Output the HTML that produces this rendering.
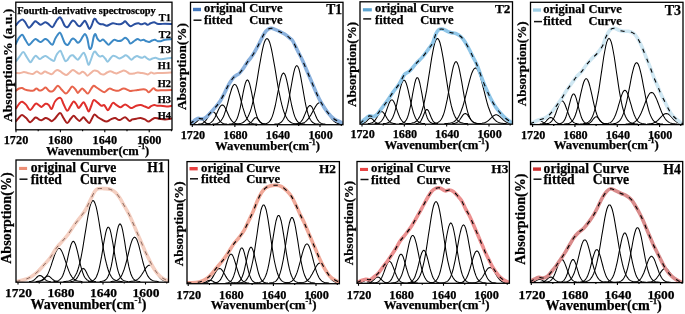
<!DOCTYPE html><html><head><meta charset="utf-8"><style>html,body{margin:0;padding:0;background:#fff;overflow:hidden}</style></head><body><svg width="685" height="314" viewBox="0 0 685 314" style="display:block;filter:blur(0.4px)">
<rect width="685" height="314" fill="#fff"/>
<defs>
<clipPath id="cT1"><rect x="190.5" y="2.3" width="152.5" height="122.4"/></clipPath>
<clipPath id="cT2"><rect x="360" y="1.8" width="152.5" height="122.4"/></clipPath>
<clipPath id="cT3"><rect x="530.5" y="2.3" width="152.5" height="122.3"/></clipPath>
<clipPath id="cH1"><rect x="16" y="160" width="152.5" height="122.19999999999999"/></clipPath>
<clipPath id="cH2"><rect x="187" y="161.6" width="152.39999999999998" height="122.1"/></clipPath>
<clipPath id="cH3"><rect x="357" y="161.5" width="152.39999999999998" height="121.80000000000001"/></clipPath>
<clipPath id="cH4"><rect x="530.5" y="161.5" width="152.20000000000005" height="121.10000000000002"/></clipPath>
<clipPath id="cA"><rect x="15.5" y="2" width="156.5" height="128"/></clipPath>
</defs>
<g clip-path="url(#cT1)">
<g fill="none" stroke="#000" stroke-width="1.05" stroke-linejoin="round"><polyline points="190.9,124.2 191.9,124.1 193.0,123.9 194.1,123.5 195.2,123.0 196.3,122.2 197.4,121.1 198.4,120.1 199.5,119.4 200.6,119.1 201.7,119.4 202.8,120.1 203.8,121.1 204.9,122.2 206.0,123.0 207.1,123.5 208.2,123.9 209.3,124.1 210.3,124.2"/><polyline points="198.1,124.2 199.1,124.1 200.2,124.0 201.2,123.8 202.2,123.4 203.3,122.9 204.3,122.1 205.4,121.0 206.4,119.6 207.5,118.0 208.5,116.2 209.6,114.4 210.6,112.9 211.7,112.0 212.7,111.6 213.7,112.0 214.8,112.9 215.8,114.4 216.9,116.2 217.9,118.0 219.0,119.6 220.0,121.0 221.1,122.1 222.1,122.9 223.2,123.4 224.2,123.8 225.2,124.0 226.3,124.1 227.3,124.2"/><polyline points="204.7,124.2 205.7,124.1 206.8,124.0 207.8,123.9 208.8,123.6 209.9,123.2 210.9,122.6 211.9,121.7 213.0,120.6 214.0,119.0 215.1,117.2 216.1,115.0 217.1,112.7 218.2,110.3 219.2,108.2 220.2,106.4 221.3,105.3 222.3,104.9 223.3,105.3 224.4,106.4 225.4,108.2 226.4,110.3 227.5,112.7 228.5,115.0 229.5,117.2 230.6,119.0 231.6,120.6 232.7,121.7 233.7,122.6 234.7,123.2 235.8,123.6 236.8,123.9 237.8,124.0 238.9,124.1 239.9,124.2"/><polyline points="212.0,124.2 213.1,124.1 214.1,124.0 215.1,123.9 216.2,123.7 217.2,123.5 218.2,123.0 219.2,122.4 220.3,121.5 221.3,120.3 222.3,118.7 223.4,116.7 224.4,114.2 225.4,111.2 226.5,107.7 227.5,104.0 228.5,100.0 229.5,96.0 230.6,92.3 231.6,89.0 232.6,86.5 233.7,84.9 234.7,84.4 235.7,84.9 236.8,86.5 237.8,89.0 238.8,92.3 239.9,96.0 240.9,100.0 241.9,104.0 242.9,107.7 244.0,111.2 245.0,114.2 246.0,116.7 247.1,118.7 248.1,120.3 249.1,121.5 250.2,122.4 251.2,123.0 252.2,123.5 253.2,123.7 254.3,123.9 255.3,124.0 256.3,124.1 257.4,124.2"/><polyline points="228.6,124.2 229.7,124.1 230.7,124.0 231.7,123.8 232.8,123.5 233.8,122.9 234.9,122.0 235.9,120.7 237.0,118.7 238.0,116.1 239.0,112.6 240.1,108.3 241.1,103.3 242.2,97.9 243.2,92.4 244.3,87.4 245.3,83.4 246.4,80.7 247.4,79.8 248.4,80.7 249.5,83.4 250.5,87.4 251.6,92.4 252.6,97.9 253.7,103.3 254.7,108.3 255.8,112.6 256.8,116.1 257.8,118.7 258.9,120.7 259.9,122.0 261.0,122.9 262.0,123.5 263.1,123.8 264.1,124.0 265.1,124.1 266.2,124.2"/><polyline points="246.5,124.2 247.6,124.1 248.7,123.8 249.8,123.3 250.9,122.5 252.0,121.3 253.1,119.9 254.2,118.5 255.3,117.7 256.5,117.7 257.6,118.5 258.7,119.9 259.8,121.3 260.9,122.5 262.0,123.3 263.1,123.8 264.2,124.1 265.3,124.2"/><polyline points="233.8,124.2 234.8,124.1 235.9,124.1 236.9,124.0 237.9,123.9 238.9,123.8 239.9,123.6 241.0,123.3 242.0,123.0 243.0,122.5 244.0,121.8 245.0,120.9 246.1,119.8 247.1,118.3 248.1,116.5 249.1,114.3 250.2,111.6 251.2,108.4 252.2,104.7 253.2,100.5 254.2,95.7 255.3,90.5 256.3,84.8 257.3,78.8 258.3,72.7 259.3,66.6 260.4,60.6 261.4,55.0 262.4,49.9 263.4,45.6 264.4,42.2 265.5,39.8 266.5,38.7 267.5,38.7 268.5,39.8 269.6,42.2 270.6,45.6 271.6,49.9 272.6,55.0 273.6,60.6 274.7,66.6 275.7,72.7 276.7,78.8 277.7,84.8 278.7,90.5 279.8,95.7 280.8,100.5 281.8,104.7 282.8,108.4 283.8,111.6 284.9,114.3 285.9,116.5 286.9,118.3 287.9,119.8 289.0,120.9 290.0,121.8 291.0,122.5 292.0,123.0 293.0,123.3 294.1,123.6 295.1,123.8 296.1,123.9 297.1,124.0 298.1,124.1 299.2,124.1 300.2,124.2"/><polyline points="261.9,124.2 262.9,124.1 264.0,124.0 265.0,123.9 266.0,123.7 267.0,123.3 268.1,122.7 269.1,121.8 270.1,120.6 271.2,118.9 272.2,116.6 273.2,113.6 274.2,109.9 275.3,105.5 276.3,100.5 277.3,95.1 278.4,89.6 279.4,84.4 280.4,79.8 281.4,76.1 282.5,73.8 283.5,73.0 284.5,73.8 285.6,76.1 286.6,79.8 287.6,84.4 288.6,89.6 289.7,95.1 290.7,100.5 291.7,105.5 292.8,109.9 293.8,113.6 294.8,116.6 295.8,118.9 296.9,120.6 297.9,121.8 298.9,122.7 300.0,123.3 301.0,123.7 302.0,123.9 303.0,124.0 304.1,124.1 305.1,124.2"/><polyline points="274.2,124.2 275.3,124.1 276.3,124.0 277.3,123.9 278.3,123.7 279.4,123.3 280.4,122.8 281.4,122.0 282.4,120.8 283.5,119.2 284.5,117.0 285.5,114.2 286.5,110.6 287.6,106.2 288.6,101.2 289.6,95.5 290.6,89.6 291.7,83.5 292.7,77.8 293.7,72.8 294.7,68.9 295.8,66.4 296.8,65.6 297.8,66.4 298.9,68.9 299.9,72.8 300.9,77.8 301.9,83.5 303.0,89.6 304.0,95.5 305.0,101.2 306.0,106.2 307.1,110.6 308.1,114.2 309.1,117.0 310.1,119.2 311.2,120.8 312.2,122.0 313.2,122.8 314.2,123.3 315.3,123.7 316.3,123.9 317.3,124.0 318.3,124.1 319.4,124.2"/><polyline points="294.5,124.2 295.6,124.1 296.6,124.0 297.7,123.7 298.8,123.4 299.9,122.7 300.9,121.8 302.0,120.4 303.1,118.5 304.1,116.2 305.2,113.6 306.3,111.0 307.3,108.5 308.4,106.6 309.5,105.6 310.5,105.6 311.6,106.6 312.7,108.5 313.7,111.0 314.8,113.6 315.9,116.2 316.9,118.5 318.0,120.4 319.1,121.8 320.1,122.7 321.2,123.4 322.3,123.7 323.4,124.0 324.4,124.1 325.5,124.2"/><polyline points="295.6,124.2 296.6,124.1 297.7,124.1 298.7,124.0 299.7,123.9 300.8,123.7 301.8,123.5 302.8,123.1 303.8,122.7 304.9,122.1 305.9,121.3 306.9,120.4 308.0,119.2 309.0,117.9 310.0,116.3 311.1,114.6 312.1,112.7 313.1,110.8 314.2,108.9 315.2,107.1 316.2,105.5 317.2,104.1 318.3,103.2 319.3,102.6 320.3,102.5 321.4,102.9 322.4,103.7 323.4,104.9 324.5,106.5 325.5,108.2 326.5,110.1 327.5,112.1 328.6,114.0 329.6,115.7 330.6,117.4 331.7,118.8 332.7,120.0 333.7,121.0 334.8,121.8 335.8,122.5 336.8,123.0 337.8,123.4 338.9,123.6 339.9,123.8 340.9,124.0 342.0,124.0 343.0,124.1"/></g>
<path d="M190.00,123.90C190.67,123.40 192.72,121.82 194.00,120.90C195.28,119.98 196.28,118.73 197.70,118.40C199.12,118.07 201.10,119.10 202.50,118.90C203.90,118.70 204.88,118.08 206.10,117.20C207.32,116.32 208.38,115.10 209.80,113.60C211.22,112.10 212.98,110.12 214.60,108.20C216.22,106.28 217.88,104.55 219.50,102.10C221.12,99.65 222.93,96.10 224.30,93.50C225.67,90.90 226.65,88.50 227.70,86.50C228.75,84.50 229.63,83.00 230.60,81.50C231.57,80.00 232.55,78.53 233.50,77.50C234.45,76.47 235.35,75.97 236.30,75.30C237.25,74.63 238.23,74.38 239.20,73.50C240.17,72.62 241.13,71.28 242.10,70.00C243.07,68.72 244.05,67.22 245.00,65.80C245.95,64.38 246.85,62.82 247.80,61.50C248.75,60.18 249.67,59.32 250.70,57.90C251.73,56.48 252.77,55.03 254.00,53.00C255.23,50.97 256.38,48.95 258.10,45.70C259.82,42.45 262.57,36.28 264.30,33.50C266.03,30.72 267.12,29.85 268.50,29.00C269.88,28.15 270.88,28.03 272.60,28.40C274.32,28.77 276.73,30.22 278.80,31.20C280.87,32.18 283.13,33.12 285.00,34.30C286.87,35.48 288.72,37.20 290.00,38.30C291.28,39.40 291.45,38.87 292.70,40.90C293.95,42.93 295.90,47.32 297.50,50.50C299.10,53.68 300.70,56.55 302.30,60.00C303.90,63.45 305.52,67.48 307.10,71.20C308.68,74.92 310.22,78.58 311.80,82.30C313.38,86.02 315.00,90.05 316.60,93.50C318.20,96.95 319.53,99.82 321.40,103.00C323.27,106.18 325.68,109.93 327.80,112.60C329.92,115.27 331.98,117.42 334.10,119.00C336.22,120.58 339.02,121.32 340.50,122.10C341.98,122.88 342.58,123.43 343.00,123.70" fill="none" stroke="#8ab1dd" stroke-width="3.6" stroke-linejoin="round" stroke-linecap="round"/>
<path d="M190.00,123.90C190.67,123.40 192.72,121.82 194.00,120.90C195.28,119.98 196.28,118.73 197.70,118.40C199.12,118.07 201.10,119.10 202.50,118.90C203.90,118.70 204.88,118.08 206.10,117.20C207.32,116.32 208.38,115.10 209.80,113.60C211.22,112.10 212.98,110.12 214.60,108.20C216.22,106.28 217.88,104.55 219.50,102.10C221.12,99.65 222.93,96.10 224.30,93.50C225.67,90.90 226.65,88.50 227.70,86.50C228.75,84.50 229.63,83.00 230.60,81.50C231.57,80.00 232.55,78.53 233.50,77.50C234.45,76.47 235.35,75.97 236.30,75.30C237.25,74.63 238.23,74.38 239.20,73.50C240.17,72.62 241.13,71.28 242.10,70.00C243.07,68.72 244.05,67.22 245.00,65.80C245.95,64.38 246.85,62.82 247.80,61.50C248.75,60.18 249.67,59.32 250.70,57.90C251.73,56.48 252.77,55.03 254.00,53.00C255.23,50.97 256.38,48.95 258.10,45.70C259.82,42.45 262.57,36.28 264.30,33.50C266.03,30.72 267.12,29.85 268.50,29.00C269.88,28.15 270.88,28.03 272.60,28.40C274.32,28.77 276.73,30.22 278.80,31.20C280.87,32.18 283.13,33.12 285.00,34.30C286.87,35.48 288.72,37.20 290.00,38.30C291.28,39.40 291.45,38.87 292.70,40.90C293.95,42.93 295.90,47.32 297.50,50.50C299.10,53.68 300.70,56.55 302.30,60.00C303.90,63.45 305.52,67.48 307.10,71.20C308.68,74.92 310.22,78.58 311.80,82.30C313.38,86.02 315.00,90.05 316.60,93.50C318.20,96.95 319.53,99.82 321.40,103.00C323.27,106.18 325.68,109.93 327.80,112.60C329.92,115.27 331.98,117.42 334.10,119.00C336.22,120.58 339.02,121.32 340.50,122.10C341.98,122.88 342.58,123.43 343.00,123.70" fill="none" stroke="#000" stroke-width="1.1" stroke-dasharray="4.3 6.3"/>
</g>
<rect x="190.5" y="2.3" width="152.5" height="122.4" fill="none" stroke="#000" stroke-width="1.3"/>
<path d="M192.30,124.70v2.4 M213.58,124.70v1.4 M234.87,124.70v2.4 M256.15,124.70v1.4 M277.43,124.70v2.4 M298.72,124.70v1.4 M320.00,124.70v2.4 M341.28,124.70v1.4" stroke="#000" stroke-width="1.1" fill="none"/>
<text x="192.90" y="138.7" text-anchor="middle" style="font-family:'Liberation Serif',serif;font-weight:bold;stroke:#000;stroke-width:0.25px;font-size:12.2px">1720</text>
<text x="235.47" y="138.7" text-anchor="middle" style="font-family:'Liberation Serif',serif;font-weight:bold;stroke:#000;stroke-width:0.25px;font-size:12.2px">1680</text>
<text x="278.03" y="138.7" text-anchor="middle" style="font-family:'Liberation Serif',serif;font-weight:bold;stroke:#000;stroke-width:0.25px;font-size:12.2px">1640</text>
<text x="320.60" y="138.7" text-anchor="middle" style="font-family:'Liberation Serif',serif;font-weight:bold;stroke:#000;stroke-width:0.25px;font-size:12.2px">1600</text>
<text x="215.0" y="150.3" style="font-family:'Liberation Serif',serif;font-weight:bold;stroke:#000;stroke-width:0.25px;font-size:12.748999999999999px">Wavenumber(cm<tspan style="font-size:7.90px" dy="-5.35">-1</tspan><tspan dy="5.35">)</tspan></text>
<text transform="translate(186.4,66.55) rotate(-90)" text-anchor="middle" textLength="87.0" lengthAdjust="spacingAndGlyphs" style="font-family:'Liberation Serif',serif;font-weight:bold;stroke:#000;stroke-width:0.25px;font-size:13.1px">Absorption(%)</text>
<rect x="193" y="7.8" width="8" height="3.4" fill="#4277bd"/>
<path d="M193.5,20.2h8" stroke="#111" stroke-width="1.5"/>
<text x="204.1" y="12.2" style="font-family:'Liberation Serif',serif;font-weight:bold;stroke:#000;stroke-width:0.25px;font-size:12.5px">original</text>
<text x="249.3" y="12.2" style="font-family:'Liberation Serif',serif;font-weight:bold;stroke:#000;stroke-width:0.25px;font-size:12.5px">Curve</text>
<text x="204.1" y="24.2" style="font-family:'Liberation Serif',serif;font-weight:bold;stroke:#000;stroke-width:0.25px;font-size:12.5px">fitted</text>
<text x="249.3" y="24.2" style="font-family:'Liberation Serif',serif;font-weight:bold;stroke:#000;stroke-width:0.25px;font-size:12.5px">Curve</text>
<text x="342" y="13.9" text-anchor="end" style="font-family:'Liberation Serif',serif;font-weight:bold;stroke:#000;stroke-width:0.25px;font-size:13.6px">T1</text>
<g clip-path="url(#cT2)">
<g fill="none" stroke="#000" stroke-width="1.05" stroke-linejoin="round"><polyline points="361.3,123.5 362.4,123.5 363.5,123.2 364.5,122.8 365.6,122.1 366.7,121.1 367.8,119.9 368.9,118.8 370.0,118.1 371.0,118.1 372.1,118.8 373.2,119.9 374.3,121.1 375.4,122.1 376.5,122.8 377.5,123.2 378.6,123.5 379.7,123.5"/><polyline points="367.8,123.5 368.9,123.5 369.9,123.4 371.0,123.1 372.1,122.7 373.1,122.1 374.2,121.2 375.3,119.9 376.4,118.3 377.4,116.5 378.5,114.6 379.6,113.1 380.6,112.0 381.7,111.6 382.8,112.0 383.8,113.1 384.9,114.6 386.0,116.5 387.0,118.3 388.1,119.9 389.2,121.2 390.3,122.1 391.3,122.7 392.4,123.1 393.5,123.4 394.5,123.5 395.6,123.5"/><polyline points="374.6,123.5 375.6,123.5 376.7,123.4 377.7,123.2 378.8,122.9 379.8,122.4 380.9,121.6 381.9,120.5 382.9,119.0 384.0,116.9 385.0,114.5 386.1,111.6 387.1,108.6 388.2,105.6 389.2,102.9 390.2,101.0 391.3,99.9 392.3,99.9 393.4,101.0 394.4,102.9 395.4,105.6 396.5,108.6 397.5,111.6 398.6,114.5 399.6,116.9 400.7,119.0 401.7,120.5 402.7,121.6 403.8,122.4 404.8,122.9 405.9,123.2 406.9,123.4 408.0,123.5 409.0,123.5"/><polyline points="383.0,123.5 384.1,123.5 385.1,123.4 386.2,123.3 387.2,123.0 388.3,122.6 389.3,122.0 390.4,121.1 391.4,119.8 392.5,118.0 393.5,115.6 394.6,112.6 395.6,108.9 396.7,104.6 397.7,99.9 398.8,95.1 399.8,90.4 400.9,86.2 401.9,82.9 403.0,80.8 404.0,80.1 405.0,80.8 406.1,82.9 407.1,86.2 408.2,90.4 409.2,95.1 410.3,99.9 411.3,104.6 412.4,108.9 413.4,112.6 414.5,115.6 415.5,118.0 416.6,119.8 417.6,121.1 418.7,122.0 419.7,122.6 420.8,123.0 421.8,123.3 422.9,123.4 423.9,123.5 425.0,123.5"/><polyline points="399.2,123.5 400.2,123.5 401.3,123.4 402.3,123.2 403.3,122.8 404.4,122.2 405.4,121.2 406.4,119.7 407.5,117.4 408.5,114.4 409.5,110.4 410.6,105.6 411.6,100.1 412.6,94.2 413.7,88.5 414.7,83.5 415.7,79.8 416.8,77.8 417.8,77.8 418.9,79.8 419.9,83.5 420.9,88.5 422.0,94.2 423.0,100.1 424.0,105.6 425.1,110.4 426.1,114.4 427.1,117.4 428.2,119.7 429.2,121.2 430.2,122.2 431.3,122.8 432.3,123.2 433.3,123.4 434.4,123.5 435.4,123.5"/><polyline points="415.8,123.5 416.9,123.5 417.9,123.2 419.0,122.8 420.0,122.0 421.1,120.6 422.1,118.6 423.2,116.0 424.3,113.3 425.3,110.9 426.4,109.6 427.4,109.6 428.5,110.9 429.5,113.3 430.6,116.0 431.7,118.6 432.7,120.6 433.8,122.0 434.8,122.8 435.9,123.2 436.9,123.5 438.0,123.5"/><polyline points="406.9,123.5 408.0,123.5 409.0,123.5 410.0,123.4 411.1,123.3 412.1,123.1 413.1,122.8 414.2,122.5 415.2,122.0 416.2,121.3 417.3,120.3 418.3,119.0 419.3,117.4 420.4,115.3 421.4,112.7 422.4,109.5 423.5,105.7 424.5,101.2 425.5,96.1 426.6,90.4 427.6,84.2 428.6,77.7 429.7,70.9 430.7,64.2 431.7,57.8 432.8,51.9 433.8,46.9 434.8,42.8 435.9,40.0 436.9,38.6 437.9,38.6 438.9,40.0 440.0,42.8 441.0,46.9 442.0,51.9 443.1,57.8 444.1,64.2 445.1,70.9 446.2,77.7 447.2,84.2 448.2,90.4 449.3,96.1 450.3,101.2 451.3,105.7 452.4,109.5 453.4,112.7 454.4,115.3 455.5,117.4 456.5,119.0 457.5,120.3 458.6,121.3 459.6,122.0 460.6,122.5 461.7,122.8 462.7,123.1 463.7,123.3 464.8,123.4 465.8,123.5 466.8,123.5 467.9,123.5"/><polyline points="431.8,123.5 432.9,123.5 433.9,123.4 434.9,123.3 436.0,123.1 437.0,122.8 438.0,122.4 439.0,121.7 440.1,120.8 441.1,119.5 442.1,117.7 443.2,115.3 444.2,112.3 445.2,108.6 446.2,104.2 447.3,99.2 448.3,93.6 449.3,87.6 450.3,81.6 451.4,75.9 452.4,70.7 453.4,66.4 454.5,63.4 455.5,61.8 456.5,61.8 457.5,63.4 458.6,66.4 459.6,70.7 460.6,75.9 461.7,81.6 462.7,87.6 463.7,93.6 464.7,99.2 465.8,104.2 466.8,108.6 467.8,112.3 468.8,115.3 469.9,117.7 470.9,119.5 471.9,120.8 473.0,121.7 474.0,122.4 475.0,122.8 476.0,123.1 477.1,123.3 478.1,123.4 479.1,123.5 480.2,123.5"/><polyline points="452.3,123.5 453.3,123.5 454.4,123.4 455.4,123.1 456.4,122.7 457.5,122.1 458.5,121.2 459.6,120.0 460.6,118.5 461.7,116.9 462.7,115.4 463.7,114.2 464.8,113.6 465.8,113.6 466.9,114.2 467.9,115.4 468.9,116.9 470.0,118.5 471.0,120.0 472.1,121.2 473.1,122.1 474.2,122.7 475.2,123.1 476.2,123.4 477.3,123.5 478.3,123.5"/><polyline points="444.4,123.5 445.4,123.5 446.5,123.5 447.5,123.4 448.5,123.3 449.5,123.2 450.5,123.0 451.5,122.7 452.6,122.4 453.6,121.9 454.6,121.3 455.6,120.4 456.6,119.4 457.7,118.1 458.7,116.5 459.7,114.5 460.7,112.2 461.7,109.5 462.8,106.5 463.8,103.1 464.8,99.4 465.8,95.4 466.8,91.4 467.9,87.2 468.9,83.2 469.9,79.3 470.9,75.9 471.9,72.9 473.0,70.6 474.0,68.9 475.0,68.1 476.0,68.1 477.0,68.9 478.0,70.6 479.1,72.9 480.1,75.9 481.1,79.3 482.1,83.2 483.1,87.2 484.2,91.4 485.2,95.4 486.2,99.4 487.2,103.1 488.2,106.5 489.3,109.5 490.3,112.2 491.3,114.5 492.3,116.5 493.3,118.1 494.4,119.4 495.4,120.4 496.4,121.3 497.4,121.9 498.4,122.4 499.5,122.7 500.5,123.0 501.5,123.2 502.5,123.3 503.5,123.4 504.5,123.5 505.6,123.5 506.6,123.5"/><polyline points="478.8,123.5 479.9,123.5 480.9,123.4 482.0,123.3 483.0,123.1 484.1,122.9 485.1,122.5 486.2,122.0 487.3,121.4 488.3,120.6 489.4,119.7 490.4,118.6 491.5,117.6 492.5,116.6 493.6,115.8 494.6,115.2 495.7,114.8 496.7,114.8 497.8,115.2 498.8,115.8 499.9,116.6 500.9,117.6 502.0,118.6 503.0,119.6 504.1,120.6 505.1,121.4 506.2,122.0 507.2,122.5 508.3,122.9 509.3,123.1 510.4,123.3 511.4,123.4 512.5,123.5"/></g>
<path d="M360.00,123.40C360.87,122.67 363.65,120.25 365.20,119.00C366.75,117.75 367.92,116.30 369.30,115.90C370.68,115.50 372.28,116.77 373.50,116.60C374.72,116.43 375.40,116.05 376.60,114.90C377.80,113.75 378.98,111.95 380.70,109.70C382.42,107.45 384.83,104.33 386.90,101.40C388.97,98.47 391.03,95.03 393.10,92.10C395.17,89.17 397.40,86.73 399.30,83.80C401.20,80.87 402.77,76.63 404.50,74.50C406.23,72.37 407.75,72.85 409.70,71.00C411.65,69.15 414.08,65.70 416.20,63.40C418.32,61.10 420.33,59.62 422.40,57.20C424.47,54.78 426.87,51.32 428.60,48.90C430.33,46.48 431.58,45.22 432.80,42.70C434.02,40.18 434.87,35.98 435.90,33.80C436.93,31.62 437.80,30.37 439.00,29.60C440.20,28.83 441.72,28.92 443.10,29.20C444.48,29.48 445.92,30.70 447.30,31.30C448.68,31.90 450.03,32.45 451.40,32.80C452.77,33.15 453.95,32.78 455.50,33.40C457.05,34.02 459.13,35.12 460.70,36.50C462.27,37.88 463.47,39.53 464.90,41.70C466.33,43.87 467.93,46.92 469.30,49.50C470.67,52.08 471.87,54.73 473.10,57.20C474.33,59.67 475.50,61.52 476.70,64.30C477.90,67.08 479.10,70.72 480.30,73.90C481.50,77.08 482.70,80.42 483.90,83.40C485.10,86.38 486.32,89.20 487.50,91.80C488.68,94.40 489.62,96.42 491.00,99.00C492.38,101.58 494.20,104.92 495.80,107.30C497.40,109.68 499.00,111.50 500.60,113.30C502.20,115.10 503.80,116.72 505.40,118.10C507.00,119.48 508.93,120.68 510.20,121.60C511.47,122.52 512.53,123.27 513.00,123.60" fill="none" stroke="#8fc6e8" stroke-width="3.6" stroke-linejoin="round" stroke-linecap="round"/>
<path d="M360.00,123.40C360.87,122.67 363.65,120.25 365.20,119.00C366.75,117.75 367.92,116.30 369.30,115.90C370.68,115.50 372.28,116.77 373.50,116.60C374.72,116.43 375.40,116.05 376.60,114.90C377.80,113.75 378.98,111.95 380.70,109.70C382.42,107.45 384.83,104.33 386.90,101.40C388.97,98.47 391.03,95.03 393.10,92.10C395.17,89.17 397.40,86.73 399.30,83.80C401.20,80.87 402.77,76.63 404.50,74.50C406.23,72.37 407.75,72.85 409.70,71.00C411.65,69.15 414.08,65.70 416.20,63.40C418.32,61.10 420.33,59.62 422.40,57.20C424.47,54.78 426.87,51.32 428.60,48.90C430.33,46.48 431.58,45.22 432.80,42.70C434.02,40.18 434.87,35.98 435.90,33.80C436.93,31.62 437.80,30.37 439.00,29.60C440.20,28.83 441.72,28.92 443.10,29.20C444.48,29.48 445.92,30.70 447.30,31.30C448.68,31.90 450.03,32.45 451.40,32.80C452.77,33.15 453.95,32.78 455.50,33.40C457.05,34.02 459.13,35.12 460.70,36.50C462.27,37.88 463.47,39.53 464.90,41.70C466.33,43.87 467.93,46.92 469.30,49.50C470.67,52.08 471.87,54.73 473.10,57.20C474.33,59.67 475.50,61.52 476.70,64.30C477.90,67.08 479.10,70.72 480.30,73.90C481.50,77.08 482.70,80.42 483.90,83.40C485.10,86.38 486.32,89.20 487.50,91.80C488.68,94.40 489.62,96.42 491.00,99.00C492.38,101.58 494.20,104.92 495.80,107.30C497.40,109.68 499.00,111.50 500.60,113.30C502.20,115.10 503.80,116.72 505.40,118.10C507.00,119.48 508.93,120.68 510.20,121.60C511.47,122.52 512.53,123.27 513.00,123.60" fill="none" stroke="#000" stroke-width="1.1" stroke-dasharray="4.3 6.3"/>
</g>
<rect x="360" y="1.8" width="152.5" height="122.4" fill="none" stroke="#000" stroke-width="1.3"/>
<path d="M362.00,124.20v2.4 M383.17,124.20v1.4 M404.33,124.20v2.4 M425.50,124.20v1.4 M446.67,124.20v2.4 M467.83,124.20v1.4 M489.00,124.20v2.4 M510.17,124.20v1.4" stroke="#000" stroke-width="1.1" fill="none"/>
<text x="362.60" y="138.0" text-anchor="middle" style="font-family:'Liberation Serif',serif;font-weight:bold;stroke:#000;stroke-width:0.25px;font-size:12.2px">1720</text>
<text x="404.93" y="138.0" text-anchor="middle" style="font-family:'Liberation Serif',serif;font-weight:bold;stroke:#000;stroke-width:0.25px;font-size:12.2px">1680</text>
<text x="447.27" y="138.0" text-anchor="middle" style="font-family:'Liberation Serif',serif;font-weight:bold;stroke:#000;stroke-width:0.25px;font-size:12.2px">1640</text>
<text x="489.60" y="138.0" text-anchor="middle" style="font-family:'Liberation Serif',serif;font-weight:bold;stroke:#000;stroke-width:0.25px;font-size:12.2px">1600</text>
<text x="384.4" y="149.2" style="font-family:'Liberation Serif',serif;font-weight:bold;stroke:#000;stroke-width:0.25px;font-size:12.748999999999999px">Wavenumber(cm<tspan style="font-size:7.90px" dy="-5.35">-1</tspan><tspan dy="5.35">)</tspan></text>
<text transform="translate(355.9,64.39999999999999) rotate(-90)" text-anchor="middle" textLength="85.1" lengthAdjust="spacingAndGlyphs" style="font-family:'Liberation Serif',serif;font-weight:bold;stroke:#000;stroke-width:0.25px;font-size:12.8px">Absorption(%)</text>
<rect x="362.9" y="8.2" width="8.9" height="3.2" fill="#5ba3d0"/>
<path d="M363.2,18.9h8" stroke="#111" stroke-width="1.5"/>
<text x="375" y="12.4" style="font-family:'Liberation Serif',serif;font-weight:bold;stroke:#000;stroke-width:0.25px;font-size:12.5px">original</text>
<text x="420.2" y="12.4" style="font-family:'Liberation Serif',serif;font-weight:bold;stroke:#000;stroke-width:0.25px;font-size:12.5px">Curve</text>
<text x="375" y="23.9" style="font-family:'Liberation Serif',serif;font-weight:bold;stroke:#000;stroke-width:0.25px;font-size:12.5px">fitted</text>
<text x="420.2" y="23.9" style="font-family:'Liberation Serif',serif;font-weight:bold;stroke:#000;stroke-width:0.25px;font-size:12.5px">Curve</text>
<text x="510.5" y="12.9" text-anchor="end" style="font-family:'Liberation Serif',serif;font-weight:bold;stroke:#000;stroke-width:0.25px;font-size:13.3px">T2</text>
<g clip-path="url(#cT3)">
<g fill="none" stroke="#000" stroke-width="1.05" stroke-linejoin="round"><polyline points="530.5,123.9 531.6,123.8 532.7,123.5 533.7,123.1 534.8,122.4 535.9,121.5 537.0,120.7 538.1,120.1 539.2,119.9 540.2,120.3 541.3,121.0 542.4,121.9 543.5,122.7 544.6,123.3 545.6,123.7 546.7,123.9 547.8,124.0"/><polyline points="539.8,124.0 540.9,123.9 542.0,123.7 543.0,123.4 544.1,122.9 545.2,122.1 546.3,121.0 547.4,119.7 548.5,118.6 549.6,117.7 550.7,117.4 551.8,117.7 552.9,118.6 554.0,119.7 555.1,121.0 556.2,122.1 557.3,122.9 558.4,123.4 559.4,123.7 560.5,123.9 561.6,124.0"/><polyline points="544.5,124.0 545.5,123.9 546.5,123.8 547.6,123.6 548.6,123.4 549.6,122.9 550.7,122.2 551.7,121.2 552.7,119.8 553.8,118.0 554.8,115.8 555.8,113.2 556.8,110.4 557.9,107.5 558.9,104.8 559.9,102.7 561.0,101.3 562.0,100.8 563.0,101.3 564.1,102.7 565.1,104.8 566.1,107.5 567.2,110.4 568.2,113.2 569.2,115.8 570.2,118.0 571.3,119.8 572.3,121.2 573.3,122.2 574.4,122.9 575.4,123.4 576.4,123.6 577.5,123.8 578.5,123.9 579.5,124.0"/><polyline points="557.5,124.0 558.5,123.9 559.6,123.8 560.6,123.5 561.7,123.1 562.7,122.4 563.7,121.3 564.8,119.6 565.8,117.3 566.8,114.2 567.9,110.5 568.9,106.4 570.0,102.2 571.0,98.4 572.0,95.6 573.1,94.0 574.1,94.0 575.2,95.6 576.2,98.4 577.2,102.2 578.3,106.4 579.3,110.5 580.4,114.2 581.4,117.3 582.4,119.6 583.5,121.3 584.5,122.4 585.5,123.1 586.6,123.5 587.6,123.8 588.7,123.9 589.7,124.0"/><polyline points="564.1,124.0 565.1,123.9 566.1,123.8 567.1,123.7 568.2,123.5 569.2,123.2 570.2,122.7 571.3,121.9 572.3,120.9 573.3,119.5 574.4,117.5 575.4,115.0 576.4,112.0 577.4,108.3 578.5,104.1 579.5,99.6 580.5,94.9 581.6,90.2 582.6,86.0 583.6,82.5 584.7,80.0 585.7,78.7 586.7,78.7 587.7,80.0 588.8,82.5 589.8,86.0 590.8,90.2 591.9,94.9 592.9,99.6 593.9,104.1 595.0,108.3 596.0,112.0 597.0,115.0 598.0,117.5 599.1,119.5 600.1,120.9 601.1,121.9 602.2,122.7 603.2,123.2 604.2,123.5 605.3,123.7 606.3,123.8 607.3,123.9 608.3,124.0"/><polyline points="585.8,124.0 586.9,123.9 588.0,123.7 589.1,123.3 590.2,122.6 591.3,121.6 592.4,120.3 593.5,118.8 594.6,117.6 595.7,116.8 596.7,116.8 597.8,117.6 598.9,118.8 600.0,120.3 601.1,121.6 602.2,122.6 603.3,123.3 604.4,123.7 605.5,123.9 606.6,124.0"/><polyline points="580.1,124.0 581.1,123.9 582.1,123.9 583.2,123.8 584.2,123.6 585.2,123.4 586.3,123.1 587.3,122.7 588.3,122.1 589.4,121.2 590.4,120.1 591.4,118.5 592.5,116.5 593.5,113.9 594.5,110.7 595.6,106.8 596.6,102.2 597.6,96.9 598.7,90.9 599.7,84.3 600.7,77.4 601.8,70.2 602.8,63.2 603.8,56.5 604.9,50.5 605.9,45.4 606.9,41.6 608.0,39.2 609.0,38.4 610.0,39.2 611.1,41.6 612.1,45.4 613.1,50.5 614.2,56.5 615.2,63.2 616.2,70.2 617.3,77.4 618.3,84.3 619.3,90.9 620.4,96.9 621.4,102.2 622.4,106.8 623.5,110.7 624.5,113.9 625.5,116.5 626.6,118.5 627.6,120.1 628.6,121.2 629.7,122.1 630.7,122.7 631.7,123.1 632.8,123.4 633.8,123.6 634.8,123.8 635.9,123.9 636.9,123.9 637.9,124.0"/><polyline points="604.0,124.0 605.0,123.9 606.1,123.8 607.1,123.7 608.2,123.5 609.2,123.1 610.2,122.6 611.3,121.8 612.3,120.8 613.4,119.3 614.4,117.4 615.5,115.0 616.5,112.1 617.6,108.8 618.6,105.2 619.7,101.6 620.7,98.0 621.8,94.9 622.8,92.4 623.9,90.8 624.9,90.3 625.9,90.8 627.0,92.4 628.0,94.9 629.1,98.0 630.1,101.6 631.2,105.2 632.2,108.8 633.3,112.1 634.3,115.0 635.4,117.4 636.4,119.3 637.5,120.8 638.5,121.8 639.6,122.6 640.6,123.1 641.6,123.5 642.7,123.7 643.7,123.8 644.8,123.9 645.8,124.0"/><polyline points="610.2,124.0 611.2,123.9 612.3,123.9 613.3,123.8 614.3,123.6 615.4,123.4 616.4,123.0 617.4,122.5 618.5,121.8 619.5,120.9 620.6,119.6 621.6,117.8 622.6,115.6 623.7,112.9 624.7,109.5 625.7,105.6 626.8,101.1 627.8,96.1 628.8,90.8 629.9,85.3 630.9,79.9 631.9,74.8 633.0,70.3 634.0,66.7 635.0,64.1 636.1,62.8 637.1,62.8 638.2,64.1 639.2,66.7 640.2,70.3 641.3,74.8 642.3,79.9 643.3,85.3 644.4,90.8 645.4,96.1 646.4,101.1 647.5,105.6 648.5,109.5 649.5,112.9 650.6,115.6 651.6,117.8 652.6,119.6 653.7,120.9 654.7,121.8 655.8,122.5 656.8,123.0 657.8,123.4 658.9,123.6 659.9,123.8 660.9,123.9 662.0,123.9 663.0,124.0"/><polyline points="625.7,124.0 626.8,123.9 627.8,123.9 628.8,123.8 629.9,123.7 630.9,123.5 631.9,123.2 633.0,122.9 634.0,122.4 635.1,121.7 636.1,120.9 637.1,119.8 638.2,118.5 639.2,116.8 640.2,114.9 641.3,112.7 642.3,110.3 643.3,107.7 644.4,104.9 645.4,102.2 646.4,99.6 647.5,97.2 648.5,95.2 649.5,93.7 650.6,92.7 651.6,92.4 652.6,92.7 653.7,93.7 654.7,95.2 655.7,97.2 656.8,99.6 657.8,102.2 658.8,104.9 659.9,107.7 660.9,110.3 661.9,112.7 663.0,114.9 664.0,116.8 665.0,118.5 666.1,119.8 667.1,120.9 668.1,121.7 669.2,122.4 670.2,122.9 671.3,123.2 672.3,123.5 673.3,123.7 674.4,123.8 675.4,123.9 676.4,123.9 677.5,124.0"/><polyline points="647.2,124.0 648.3,123.9 649.3,123.8 650.4,123.7 651.4,123.6 652.5,123.4 653.5,123.0 654.6,122.6 655.6,122.0 656.7,121.3 657.8,120.4 658.8,119.3 659.9,118.2 660.9,117.1 662.0,116.0 663.0,115.0 664.1,114.2 665.1,113.7 666.2,113.5 667.2,113.7 668.3,114.1 669.3,114.9 670.4,115.9 671.4,117.0 672.5,118.2 673.5,119.3 674.6,120.3 675.6,121.2 676.7,122.0 677.7,122.5 678.8,123.0 679.8,123.3 680.9,123.6 681.9,123.7 683.0,123.8"/></g>
<path d="M530.00,123.80C530.68,123.52 532.72,122.73 534.10,122.10C535.48,121.47 536.92,120.52 538.30,120.00C539.68,119.48 541.02,119.52 542.40,119.00C543.78,118.48 545.22,117.83 546.60,116.90C547.98,115.97 549.15,115.12 550.70,113.40C552.25,111.68 554.17,108.95 555.90,106.60C557.63,104.25 559.38,101.88 561.10,99.30C562.82,96.72 564.48,93.68 566.20,91.10C567.92,88.52 569.67,86.22 571.40,83.80C573.13,81.38 574.87,78.67 576.60,76.60C578.33,74.53 580.25,73.25 581.80,71.40C583.35,69.55 584.33,67.52 585.90,65.50C587.47,63.48 589.28,61.37 591.20,59.30C593.12,57.23 595.50,55.35 597.40,53.10C599.30,50.85 601.22,48.40 602.60,45.80C603.98,43.20 604.50,40.08 605.70,37.50C606.90,34.92 608.42,31.85 609.80,30.30C611.18,28.75 612.43,28.20 614.00,28.20C615.57,28.20 617.65,29.78 619.20,30.30C620.75,30.82 621.75,31.13 623.30,31.30C624.85,31.47 626.77,30.95 628.50,31.30C630.23,31.65 632.15,32.18 633.70,33.40C635.25,34.62 636.43,36.37 637.80,38.60C639.17,40.83 640.52,43.70 641.90,46.80C643.28,49.90 644.75,53.87 646.10,57.20C647.45,60.53 648.70,63.42 650.00,66.80C651.30,70.18 652.65,74.33 653.90,77.50C655.15,80.67 656.32,83.02 657.50,85.80C658.68,88.58 659.82,91.62 661.00,94.20C662.18,96.78 663.40,98.92 664.60,101.30C665.80,103.68 667.00,106.30 668.20,108.50C669.40,110.70 670.40,112.70 671.80,114.50C673.20,116.30 675.02,117.92 676.60,119.30C678.18,120.68 680.23,122.05 681.30,122.80C682.37,123.55 682.72,123.63 683.00,123.80" fill="none" stroke="#cfe7f2" stroke-width="3.6" stroke-linejoin="round" stroke-linecap="round"/>
<path d="M530.00,123.80C530.68,123.52 532.72,122.73 534.10,122.10C535.48,121.47 536.92,120.52 538.30,120.00C539.68,119.48 541.02,119.52 542.40,119.00C543.78,118.48 545.22,117.83 546.60,116.90C547.98,115.97 549.15,115.12 550.70,113.40C552.25,111.68 554.17,108.95 555.90,106.60C557.63,104.25 559.38,101.88 561.10,99.30C562.82,96.72 564.48,93.68 566.20,91.10C567.92,88.52 569.67,86.22 571.40,83.80C573.13,81.38 574.87,78.67 576.60,76.60C578.33,74.53 580.25,73.25 581.80,71.40C583.35,69.55 584.33,67.52 585.90,65.50C587.47,63.48 589.28,61.37 591.20,59.30C593.12,57.23 595.50,55.35 597.40,53.10C599.30,50.85 601.22,48.40 602.60,45.80C603.98,43.20 604.50,40.08 605.70,37.50C606.90,34.92 608.42,31.85 609.80,30.30C611.18,28.75 612.43,28.20 614.00,28.20C615.57,28.20 617.65,29.78 619.20,30.30C620.75,30.82 621.75,31.13 623.30,31.30C624.85,31.47 626.77,30.95 628.50,31.30C630.23,31.65 632.15,32.18 633.70,33.40C635.25,34.62 636.43,36.37 637.80,38.60C639.17,40.83 640.52,43.70 641.90,46.80C643.28,49.90 644.75,53.87 646.10,57.20C647.45,60.53 648.70,63.42 650.00,66.80C651.30,70.18 652.65,74.33 653.90,77.50C655.15,80.67 656.32,83.02 657.50,85.80C658.68,88.58 659.82,91.62 661.00,94.20C662.18,96.78 663.40,98.92 664.60,101.30C665.80,103.68 667.00,106.30 668.20,108.50C669.40,110.70 670.40,112.70 671.80,114.50C673.20,116.30 675.02,117.92 676.60,119.30C678.18,120.68 680.23,122.05 681.30,122.80C682.37,123.55 682.72,123.63 683.00,123.80" fill="none" stroke="#000" stroke-width="1.1" stroke-dasharray="4.3 6.3"/>
</g>
<rect x="530.5" y="2.3" width="152.5" height="122.3" fill="none" stroke="#000" stroke-width="1.3"/>
<path d="M532.60,124.60v2.4 M553.77,124.60v1.4 M574.93,124.60v2.4 M596.10,124.60v1.4 M617.27,124.60v2.4 M638.43,124.60v1.4 M659.60,124.60v2.4 M680.77,124.60v1.4" stroke="#000" stroke-width="1.1" fill="none"/>
<text x="533.20" y="138.7" text-anchor="middle" style="font-family:'Liberation Serif',serif;font-weight:bold;stroke:#000;stroke-width:0.25px;font-size:12.2px">1720</text>
<text x="575.53" y="138.7" text-anchor="middle" style="font-family:'Liberation Serif',serif;font-weight:bold;stroke:#000;stroke-width:0.25px;font-size:12.2px">1680</text>
<text x="617.87" y="138.7" text-anchor="middle" style="font-family:'Liberation Serif',serif;font-weight:bold;stroke:#000;stroke-width:0.25px;font-size:12.2px">1640</text>
<text x="660.20" y="138.7" text-anchor="middle" style="font-family:'Liberation Serif',serif;font-weight:bold;stroke:#000;stroke-width:0.25px;font-size:12.2px">1600</text>
<text x="553.8" y="148.6" style="font-family:'Liberation Serif',serif;font-weight:bold;stroke:#000;stroke-width:0.25px;font-size:12.748999999999999px">Wavenumber(cm<tspan style="font-size:7.90px" dy="-5.35">-1</tspan><tspan dy="5.35">)</tspan></text>
<text transform="translate(526.1,63.849999999999994) rotate(-90)" text-anchor="middle" textLength="84.8" lengthAdjust="spacingAndGlyphs" style="font-family:'Liberation Serif',serif;font-weight:bold;stroke:#000;stroke-width:0.25px;font-size:12.8px">Absorption(%)</text>
<rect x="533" y="8.4" width="8" height="3.3" fill="#9ecfe6"/>
<path d="M534,21.6h8" stroke="#111" stroke-width="1.5"/>
<text x="543.2" y="12.9" style="font-family:'Liberation Serif',serif;font-weight:bold;stroke:#000;stroke-width:0.25px;font-size:12.5px">original</text>
<text x="588.5" y="12.9" style="font-family:'Liberation Serif',serif;font-weight:bold;stroke:#000;stroke-width:0.25px;font-size:12.5px">Curve</text>
<text x="543.2" y="24.6" style="font-family:'Liberation Serif',serif;font-weight:bold;stroke:#000;stroke-width:0.25px;font-size:12.5px">fitted</text>
<text x="588.5" y="24.6" style="font-family:'Liberation Serif',serif;font-weight:bold;stroke:#000;stroke-width:0.25px;font-size:12.5px">Curve</text>
<text x="681" y="14.8" text-anchor="end" style="font-family:'Liberation Serif',serif;font-weight:bold;stroke:#000;stroke-width:0.25px;font-size:14px">T3</text>
<g clip-path="url(#cH1)">
<g fill="none" stroke="#000" stroke-width="1.05" stroke-linejoin="round"><polyline points="29.1,281.4 30.1,281.4 31.2,281.2 32.3,280.9 33.4,280.4 34.5,279.7 35.6,278.7 36.6,277.5 37.7,276.5 38.8,275.7 39.9,275.4 41.0,275.7 42.1,276.5 43.2,277.5 44.2,278.7 45.3,279.7 46.4,280.4 47.5,280.9 48.6,281.2 49.7,281.4 50.7,281.4"/><polyline points="37.1,281.4 38.1,281.4 39.2,281.2 40.3,281.0 41.4,280.5 42.4,279.8 43.5,278.9 44.6,277.9 45.7,276.9 46.7,276.3 47.8,276.0 48.9,276.3 49.9,276.9 51.0,277.9 52.1,278.9 53.2,279.8 54.2,280.5 55.3,281.0 56.4,281.2 57.5,281.4 58.5,281.4"/><polyline points="35.6,281.4 36.6,281.4 37.6,281.3 38.7,281.2 39.7,281.1 40.8,280.8 41.8,280.5 42.9,280.0 43.9,279.3 44.9,278.3 46.0,277.0 47.0,275.4 48.1,273.4 49.1,271.1 50.1,268.4 51.2,265.4 52.2,262.2 53.3,259.0 54.3,255.9 55.4,253.1 56.4,250.9 57.4,249.2 58.5,248.4 59.5,248.4 60.6,249.2 61.6,250.9 62.6,253.1 63.7,255.9 64.7,259.0 65.8,262.2 66.8,265.4 67.9,268.4 68.9,271.1 69.9,273.4 71.0,275.4 72.0,277.0 73.1,278.3 74.1,279.3 75.1,280.0 76.2,280.5 77.2,280.8 78.3,281.1 79.3,281.2 80.4,281.3 81.4,281.4 82.4,281.4"/><polyline points="53.5,281.4 54.6,281.4 55.6,281.3 56.7,281.2 57.7,280.9 58.7,280.4 59.8,279.7 60.8,278.7 61.9,277.2 62.9,275.2 63.9,272.5 65.0,269.2 66.0,265.3 67.1,260.9 68.1,256.2 69.1,251.6 70.2,247.5 71.2,244.2 72.3,242.0 73.3,241.3 74.3,242.0 75.4,244.2 76.4,247.5 77.5,251.6 78.5,256.2 79.5,260.9 80.6,265.3 81.6,269.2 82.7,272.5 83.7,275.2 84.7,277.2 85.8,278.7 86.8,279.7 87.9,280.4 88.9,280.9 89.9,281.2 91.0,281.3 92.0,281.4 93.1,281.4"/><polyline points="70.5,281.4 71.6,281.4 72.6,281.2 73.7,280.9 74.7,280.4 75.8,279.5 76.9,278.2 77.9,276.5 79.0,274.4 80.0,272.3 81.1,270.3 82.1,268.9 83.2,268.4 84.3,268.9 85.3,270.3 86.4,272.3 87.4,274.4 88.5,276.5 89.5,278.2 90.6,279.5 91.7,280.4 92.7,280.9 93.8,281.2 94.8,281.4 95.9,281.4"/><polyline points="63.4,281.4 64.4,281.4 65.4,281.4 66.5,281.3 67.5,281.2 68.5,281.0 69.5,280.7 70.5,280.3 71.6,279.8 72.6,279.1 73.6,278.1 74.6,276.8 75.6,275.1 76.7,273.0 77.7,270.3 78.7,267.0 79.7,263.2 80.8,258.6 81.8,253.5 82.8,247.9 83.8,241.7 84.8,235.3 85.9,228.8 86.9,222.5 87.9,216.5 88.9,211.1 89.9,206.7 91.0,203.3 92.0,201.2 93.0,200.5 94.0,201.2 95.0,203.3 96.1,206.7 97.1,211.1 98.1,216.5 99.1,222.5 100.1,228.8 101.2,235.3 102.2,241.7 103.2,247.9 104.2,253.5 105.2,258.6 106.3,263.2 107.3,267.0 108.3,270.3 109.3,273.0 110.4,275.1 111.4,276.8 112.4,278.1 113.4,279.1 114.4,279.8 115.5,280.3 116.5,280.7 117.5,281.0 118.5,281.2 119.5,281.3 120.6,281.4 121.6,281.4 122.6,281.4"/><polyline points="88.1,281.4 89.1,281.4 90.2,281.3 91.2,281.1 92.2,280.8 93.3,280.4 94.3,279.6 95.4,278.4 96.4,276.7 97.4,274.3 98.5,271.1 99.5,267.1 100.5,262.1 101.6,256.4 102.6,250.3 103.6,243.9 104.7,238.0 105.7,232.9 106.7,229.2 107.8,227.3 108.8,227.3 109.9,229.2 110.9,232.9 111.9,238.0 113.0,243.9 114.0,250.3 115.0,256.4 116.1,262.1 117.1,267.1 118.1,271.1 119.2,274.3 120.2,276.7 121.2,278.4 122.3,279.6 123.3,280.4 124.4,280.8 125.4,281.1 126.4,281.3 127.5,281.4 128.5,281.4"/><polyline points="99.7,281.4 100.8,281.4 101.8,281.3 102.8,281.1 103.9,280.8 104.9,280.3 106.0,279.5 107.0,278.3 108.0,276.5 109.1,274.0 110.1,270.7 111.2,266.4 112.2,261.2 113.2,255.1 114.3,248.6 115.3,241.9 116.4,235.5 117.4,230.1 118.4,226.2 119.5,224.1 120.5,224.1 121.6,226.2 122.6,230.1 123.6,235.5 124.7,241.9 125.7,248.6 126.8,255.1 127.8,261.2 128.8,266.4 129.9,270.7 130.9,274.0 132.0,276.5 133.0,278.3 134.0,279.5 135.1,280.3 136.1,280.8 137.2,281.1 138.2,281.3 139.2,281.4 140.3,281.4"/><polyline points="110.6,281.4 111.7,281.4 112.7,281.3 113.8,281.2 114.8,281.1 115.9,280.8 116.9,280.4 117.9,279.8 119.0,279.0 120.0,277.9 121.1,276.4 122.1,274.5 123.1,272.1 124.2,269.2 125.2,265.8 126.3,262.0 127.3,257.8 128.4,253.5 129.4,249.3 130.4,245.3 131.5,241.9 132.5,239.3 133.6,237.7 134.6,237.1 135.6,237.7 136.7,239.3 137.7,241.9 138.8,245.3 139.8,249.3 140.8,253.5 141.9,257.8 142.9,262.0 144.0,265.8 145.0,269.2 146.1,272.1 147.1,274.5 148.1,276.4 149.2,277.9 150.2,279.0 151.3,279.8 152.3,280.4 153.3,280.8 154.4,281.1 155.4,281.2 156.5,281.3 157.5,281.4 158.6,281.4"/><polyline points="129.2,281.4 130.2,281.4 131.3,281.3 132.3,281.2 133.3,281.1 134.4,280.9 135.4,280.5 136.4,280.0 137.5,279.4 138.5,278.6 139.5,277.5 140.6,276.3 141.6,274.8 142.6,273.2 143.7,271.5 144.7,269.8 145.7,268.2 146.8,266.9 147.8,265.9 148.8,265.3 149.9,265.2 150.9,265.6 151.9,266.4 153.0,267.6 154.0,269.1 155.1,270.7 156.1,272.4 157.1,274.1 158.2,275.6 159.2,277.0 160.2,278.1 161.3,279.0 162.3,279.8 163.3,280.3 164.4,280.7 165.4,281.0 166.4,281.2 167.5,281.3 168.5,281.4"/></g>
<path d="M16.00,281.50C17.45,281.17 22.17,280.30 24.70,279.50C27.23,278.70 29.05,278.00 31.20,276.70C33.35,275.40 35.45,273.68 37.60,271.70C39.75,269.72 41.93,267.22 44.10,264.80C46.27,262.38 48.62,259.92 50.60,257.20C52.58,254.48 54.18,251.02 56.00,248.50C57.82,245.98 59.50,244.43 61.50,242.10C63.50,239.77 65.85,237.35 68.00,234.50C70.15,231.65 72.37,227.87 74.40,225.00C76.43,222.13 78.37,219.80 80.20,217.30C82.03,214.80 83.68,212.93 85.40,210.00C87.12,207.07 88.95,202.80 90.50,199.70C92.05,196.60 93.48,193.23 94.70,191.40C95.92,189.57 96.25,189.17 97.80,188.70C99.35,188.23 101.93,188.50 104.00,188.60C106.07,188.70 108.30,188.67 110.20,189.30C112.10,189.93 113.85,191.02 115.40,192.40C116.95,193.78 118.12,195.53 119.50,197.60C120.88,199.67 122.10,201.98 123.70,204.80C125.30,207.62 127.67,211.72 129.10,214.50C130.53,217.28 131.22,219.07 132.30,221.50C133.38,223.93 134.52,226.58 135.60,229.10C136.68,231.62 137.72,234.08 138.80,236.60C139.88,239.12 141.02,241.67 142.10,244.20C143.18,246.73 144.23,249.45 145.30,251.80C146.37,254.15 147.42,256.13 148.50,258.30C149.58,260.47 150.72,262.82 151.80,264.80C152.88,266.78 153.92,268.58 155.00,270.20C156.08,271.82 157.03,273.17 158.30,274.50C159.57,275.83 161.15,277.22 162.60,278.20C164.05,279.18 166.10,279.93 167.00,280.40C167.90,280.87 167.83,280.90 168.00,281.00" fill="none" stroke="#f4cfc1" stroke-width="3.6" stroke-linejoin="round" stroke-linecap="round"/>
<path d="M16.00,281.50C17.45,281.17 22.17,280.30 24.70,279.50C27.23,278.70 29.05,278.00 31.20,276.70C33.35,275.40 35.45,273.68 37.60,271.70C39.75,269.72 41.93,267.22 44.10,264.80C46.27,262.38 48.62,259.92 50.60,257.20C52.58,254.48 54.18,251.02 56.00,248.50C57.82,245.98 59.50,244.43 61.50,242.10C63.50,239.77 65.85,237.35 68.00,234.50C70.15,231.65 72.37,227.87 74.40,225.00C76.43,222.13 78.37,219.80 80.20,217.30C82.03,214.80 83.68,212.93 85.40,210.00C87.12,207.07 88.95,202.80 90.50,199.70C92.05,196.60 93.48,193.23 94.70,191.40C95.92,189.57 96.25,189.17 97.80,188.70C99.35,188.23 101.93,188.50 104.00,188.60C106.07,188.70 108.30,188.67 110.20,189.30C112.10,189.93 113.85,191.02 115.40,192.40C116.95,193.78 118.12,195.53 119.50,197.60C120.88,199.67 122.10,201.98 123.70,204.80C125.30,207.62 127.67,211.72 129.10,214.50C130.53,217.28 131.22,219.07 132.30,221.50C133.38,223.93 134.52,226.58 135.60,229.10C136.68,231.62 137.72,234.08 138.80,236.60C139.88,239.12 141.02,241.67 142.10,244.20C143.18,246.73 144.23,249.45 145.30,251.80C146.37,254.15 147.42,256.13 148.50,258.30C149.58,260.47 150.72,262.82 151.80,264.80C152.88,266.78 153.92,268.58 155.00,270.20C156.08,271.82 157.03,273.17 158.30,274.50C159.57,275.83 161.15,277.22 162.60,278.20C164.05,279.18 166.10,279.93 167.00,280.40C167.90,280.87 167.83,280.90 168.00,281.00" fill="none" stroke="#7a5a50" stroke-width="0.9" stroke-dasharray="4.3 6.3"/>
</g>
<rect x="16" y="160" width="152.5" height="122.19999999999999" fill="none" stroke="#000" stroke-width="1.3"/>
<path d="M18.00,282.20v2.4 M39.25,282.20v1.4 M60.50,282.20v2.4 M81.75,282.20v1.4 M103.00,282.20v2.4 M124.25,282.20v1.4 M145.50,282.20v2.4 M166.75,282.20v1.4" stroke="#000" stroke-width="1.1" fill="none"/>
<text x="18.60" y="297.3" text-anchor="middle" style="font-family:'Liberation Serif',serif;font-weight:bold;stroke:#000;stroke-width:0.25px;font-size:13.5px">1720</text>
<text x="61.10" y="297.3" text-anchor="middle" style="font-family:'Liberation Serif',serif;font-weight:bold;stroke:#000;stroke-width:0.25px;font-size:13.5px">1680</text>
<text x="103.60" y="297.3" text-anchor="middle" style="font-family:'Liberation Serif',serif;font-weight:bold;stroke:#000;stroke-width:0.25px;font-size:13.5px">1640</text>
<text x="146.10" y="297.3" text-anchor="middle" style="font-family:'Liberation Serif',serif;font-weight:bold;stroke:#000;stroke-width:0.25px;font-size:13.5px">1600</text>
<text x="30.4" y="308.7" style="font-family:'Liberation Serif',serif;font-weight:bold;stroke:#000;stroke-width:0.25px;font-size:14.107499999999998px">Wavenumber(cm<tspan style="font-size:8.75px" dy="-5.93">-1</tspan><tspan dy="5.93">)</tspan></text>
<text transform="translate(10.7,218.10000000000002) rotate(-90)" text-anchor="middle" textLength="91.5" lengthAdjust="spacingAndGlyphs" style="font-family:'Liberation Serif',serif;font-weight:bold;stroke:#000;stroke-width:0.25px;font-size:13.8px">Absorption(%)</text>
<rect x="19.1" y="166.9" width="8" height="3.1" fill="#ec8f76"/>
<path d="M19.5,179.2h8" stroke="#111" stroke-width="1.5"/>
<text x="30.8" y="172.0" style="font-family:'Liberation Serif',serif;font-weight:bold;stroke:#000;stroke-width:0.25px;font-size:13.6px">original</text>
<text x="80.0" y="172.0" style="font-family:'Liberation Serif',serif;font-weight:bold;stroke:#000;stroke-width:0.25px;font-size:13.6px">Curve</text>
<text x="30.8" y="184.1" style="font-family:'Liberation Serif',serif;font-weight:bold;stroke:#000;stroke-width:0.25px;font-size:13.6px">fitted</text>
<text x="80.0" y="184.1" style="font-family:'Liberation Serif',serif;font-weight:bold;stroke:#000;stroke-width:0.25px;font-size:13.6px">Curve</text>
<text x="164.6" y="172" text-anchor="end" style="font-family:'Liberation Serif',serif;font-weight:bold;stroke:#000;stroke-width:0.25px;font-size:13.6px">H1</text>
<g clip-path="url(#cH2)">
<g fill="none" stroke="#000" stroke-width="1.05" stroke-linejoin="round"><polyline points="201.4,282.9 202.5,282.9 203.5,282.7 204.6,282.4 205.6,282.0 206.7,281.4 207.8,280.8 208.8,280.4 209.9,280.2 211.0,280.4 212.0,280.8 213.1,281.4 214.2,282.0 215.2,282.4 216.3,282.7 217.3,282.9 218.4,282.9"/><polyline points="202.7,282.9 203.7,282.9 204.8,282.8 205.8,282.7 206.9,282.4 207.9,282.0 209.0,281.4 210.0,280.6 211.1,279.5 212.1,278.1 213.2,276.4 214.2,274.6 215.3,272.8 216.3,271.0 217.4,269.6 218.4,268.7 219.5,268.4 220.6,268.7 221.6,269.6 222.7,271.0 223.7,272.8 224.8,274.6 225.8,276.4 226.9,278.1 227.9,279.5 229.0,280.6 230.0,281.4 231.1,282.0 232.1,282.4 233.2,282.7 234.2,282.8 235.3,282.9 236.3,282.9"/><polyline points="212.8,282.9 213.9,282.9 214.9,282.8 215.9,282.6 217.0,282.3 218.0,281.9 219.0,281.1 220.1,280.1 221.1,278.6 222.2,276.6 223.2,274.0 224.2,271.0 225.3,267.6 226.3,264.0 227.4,260.6 228.4,257.6 229.4,255.4 230.5,254.2 231.5,254.2 232.6,255.4 233.6,257.6 234.6,260.6 235.7,264.0 236.7,267.6 237.8,271.0 238.8,274.0 239.8,276.6 240.9,278.6 241.9,280.1 243.0,281.1 244.0,281.9 245.0,282.3 246.1,282.6 247.1,282.8 248.1,282.9 249.2,282.9"/><polyline points="225.5,282.9 226.6,282.9 227.6,282.8 228.7,282.5 229.7,282.0 230.8,281.3 231.8,280.0 232.9,278.1 233.9,275.4 235.0,271.9 236.0,267.5 237.1,262.7 238.1,257.7 239.2,253.2 240.2,249.8 241.3,247.9 242.3,247.9 243.4,249.8 244.4,253.2 245.5,257.7 246.5,262.7 247.6,267.5 248.6,271.9 249.7,275.4 250.7,278.1 251.8,280.0 252.8,281.3 253.9,282.0 254.9,282.5 256.0,282.8 257.0,282.9 258.1,282.9"/><polyline points="234.0,282.9 235.0,282.9 236.0,282.8 237.1,282.6 238.1,282.2 239.1,281.5 240.2,280.5 241.2,278.9 242.2,276.7 243.3,273.8 244.3,270.1 245.3,265.7 246.4,261.0 247.4,256.3 248.4,252.1 249.5,249.0 250.5,247.3 251.5,247.3 252.5,249.0 253.6,252.1 254.6,256.3 255.6,261.0 256.7,265.7 257.7,270.1 258.7,273.8 259.8,276.7 260.8,278.9 261.8,280.5 262.9,281.5 263.9,282.2 264.9,282.6 266.0,282.8 267.0,282.9 268.0,282.9"/><polyline points="237.5,282.9 238.5,282.9 239.6,282.8 240.6,282.7 241.6,282.6 242.6,282.3 243.7,281.9 244.7,281.4 245.7,280.6 246.7,279.4 247.7,277.8 248.8,275.7 249.8,273.0 250.8,269.6 251.8,265.5 252.9,260.5 253.9,254.8 254.9,248.4 255.9,241.6 257.0,234.5 258.0,227.4 259.0,220.7 260.0,214.8 261.0,210.0 262.1,206.7 263.1,204.9 264.1,204.9 265.1,206.7 266.2,210.0 267.2,214.8 268.2,220.7 269.2,227.4 270.2,234.5 271.3,241.6 272.3,248.4 273.3,254.8 274.3,260.5 275.4,265.5 276.4,269.6 277.4,273.0 278.4,275.7 279.5,277.8 280.5,279.4 281.5,280.6 282.5,281.4 283.5,281.9 284.6,282.3 285.6,282.6 286.6,282.7 287.6,282.8 288.7,282.9 289.7,282.9"/><polyline points="255.4,282.9 256.5,282.9 257.5,282.8 258.5,282.7 259.6,282.5 260.6,282.1 261.6,281.6 262.6,280.8 263.7,279.6 264.7,277.9 265.7,275.7 266.8,272.7 267.8,268.9 268.8,264.3 269.8,258.8 270.9,252.6 271.9,245.9 272.9,238.9 274.0,232.2 275.0,226.1 276.0,221.0 277.1,217.3 278.1,215.4 279.1,215.4 280.1,217.3 281.2,221.0 282.2,226.1 283.2,232.2 284.3,238.9 285.3,245.9 286.3,252.6 287.4,258.8 288.4,264.3 289.4,268.9 290.4,272.7 291.5,275.7 292.5,277.9 293.5,279.6 294.6,280.8 295.6,281.6 296.6,282.1 297.6,282.5 298.7,282.7 299.7,282.8 300.7,282.9 301.8,282.9"/><polyline points="268.9,282.9 269.9,282.9 270.9,282.8 272.0,282.7 273.0,282.5 274.0,282.1 275.0,281.6 276.1,280.8 277.1,279.7 278.1,278.1 279.2,275.8 280.2,272.9 281.2,269.3 282.2,264.8 283.3,259.5 284.3,253.5 285.3,247.0 286.3,240.3 287.4,233.8 288.4,227.9 289.4,223.0 290.5,219.5 291.5,217.6 292.5,217.6 293.5,219.5 294.6,223.0 295.6,227.9 296.6,233.8 297.7,240.3 298.7,247.0 299.7,253.5 300.7,259.5 301.8,264.8 302.8,269.3 303.8,272.9 304.8,275.8 305.9,278.1 306.9,279.7 307.9,280.8 309.0,281.6 310.0,282.1 311.0,282.5 312.0,282.7 313.1,282.8 314.1,282.9 315.1,282.9"/><polyline points="284.6,282.9 285.7,282.9 286.7,282.8 287.7,282.7 288.8,282.5 289.8,282.2 290.8,281.8 291.9,281.1 292.9,280.2 294.0,278.9 295.0,277.2 296.0,275.0 297.1,272.4 298.1,269.2 299.1,265.6 300.2,261.7 301.2,257.7 302.2,253.8 303.3,250.2 304.3,247.3 305.3,245.1 306.4,244.0 307.4,244.0 308.5,245.1 309.5,247.3 310.5,250.2 311.6,253.8 312.6,257.7 313.6,261.7 314.7,265.6 315.7,269.2 316.7,272.4 317.8,275.0 318.8,277.2 319.8,278.9 320.9,280.2 321.9,281.1 323.0,281.8 324.0,282.2 325.0,282.5 326.1,282.7 327.1,282.8 328.1,282.9 329.2,282.9"/><polyline points="298.5,282.9 299.6,282.9 300.6,282.8 301.7,282.7 302.7,282.6 303.8,282.3 304.8,282.0 305.9,281.5 306.9,280.8 308.0,280.0 309.0,278.8 310.1,277.5 311.1,275.8 312.2,274.0 313.2,272.0 314.3,270.0 315.3,268.0 316.3,266.2 317.4,264.7 318.4,263.6 319.5,263.1 320.5,263.1 321.6,263.6 322.6,264.7 323.7,266.2 324.7,268.1 325.8,270.0 326.8,272.1 327.9,274.1 328.9,275.9 330.0,277.5 331.0,278.9 332.1,280.0 333.1,280.9 334.2,281.5 335.2,282.0 336.3,282.4 337.3,282.6 338.4,282.7 339.4,282.9"/></g>
<path d="M187.00,282.70C188.47,282.68 193.23,282.90 195.80,282.60C198.37,282.30 200.38,281.73 202.40,280.90C204.42,280.07 206.25,278.88 207.90,277.60C209.55,276.32 210.83,274.85 212.30,273.20C213.77,271.55 215.05,269.70 216.70,267.70C218.35,265.70 220.37,263.57 222.20,261.20C224.03,258.83 225.87,256.25 227.70,253.50C229.53,250.75 231.38,247.27 233.20,244.70C235.02,242.13 236.78,240.48 238.60,238.10C240.42,235.72 242.35,233.42 244.10,230.40C245.85,227.38 247.57,223.22 249.10,220.00C250.63,216.78 251.92,214.30 253.30,211.10C254.68,207.90 256.02,203.90 257.40,200.80C258.78,197.70 260.22,194.65 261.60,192.50C262.98,190.35 264.33,189.00 265.70,187.90C267.07,186.80 268.07,186.35 269.80,185.90C271.53,185.45 274.20,185.13 276.10,185.20C278.00,185.27 279.48,185.43 281.20,186.30C282.92,187.17 284.67,188.68 286.40,190.40C288.13,192.12 289.87,193.83 291.60,196.60C293.33,199.37 295.33,203.93 296.80,207.00C298.27,210.07 299.25,212.57 300.40,215.00C301.55,217.43 302.60,219.22 303.70,221.60C304.80,223.98 305.90,226.73 307.00,229.30C308.10,231.87 309.20,234.43 310.30,237.00C311.40,239.57 312.50,242.13 313.60,244.70C314.70,247.27 315.80,249.83 316.90,252.40C318.00,254.97 319.10,257.73 320.20,260.10C321.30,262.47 322.40,264.60 323.50,266.60C324.60,268.60 325.70,270.45 326.80,272.10C327.90,273.75 328.82,275.22 330.10,276.50C331.38,277.78 333.05,278.88 334.50,279.80C335.95,280.72 337.88,281.53 338.80,282.00C339.72,282.47 339.80,282.50 340.00,282.60" fill="none" stroke="#f0a898" stroke-width="3.6" stroke-linejoin="round" stroke-linecap="round"/>
<path d="M187.00,282.70C188.47,282.68 193.23,282.90 195.80,282.60C198.37,282.30 200.38,281.73 202.40,280.90C204.42,280.07 206.25,278.88 207.90,277.60C209.55,276.32 210.83,274.85 212.30,273.20C213.77,271.55 215.05,269.70 216.70,267.70C218.35,265.70 220.37,263.57 222.20,261.20C224.03,258.83 225.87,256.25 227.70,253.50C229.53,250.75 231.38,247.27 233.20,244.70C235.02,242.13 236.78,240.48 238.60,238.10C240.42,235.72 242.35,233.42 244.10,230.40C245.85,227.38 247.57,223.22 249.10,220.00C250.63,216.78 251.92,214.30 253.30,211.10C254.68,207.90 256.02,203.90 257.40,200.80C258.78,197.70 260.22,194.65 261.60,192.50C262.98,190.35 264.33,189.00 265.70,187.90C267.07,186.80 268.07,186.35 269.80,185.90C271.53,185.45 274.20,185.13 276.10,185.20C278.00,185.27 279.48,185.43 281.20,186.30C282.92,187.17 284.67,188.68 286.40,190.40C288.13,192.12 289.87,193.83 291.60,196.60C293.33,199.37 295.33,203.93 296.80,207.00C298.27,210.07 299.25,212.57 300.40,215.00C301.55,217.43 302.60,219.22 303.70,221.60C304.80,223.98 305.90,226.73 307.00,229.30C308.10,231.87 309.20,234.43 310.30,237.00C311.40,239.57 312.50,242.13 313.60,244.70C314.70,247.27 315.80,249.83 316.90,252.40C318.00,254.97 319.10,257.73 320.20,260.10C321.30,262.47 322.40,264.60 323.50,266.60C324.60,268.60 325.70,270.45 326.80,272.10C327.90,273.75 328.82,275.22 330.10,276.50C331.38,277.78 333.05,278.88 334.50,279.80C335.95,280.72 337.88,281.53 338.80,282.00C339.72,282.47 339.80,282.50 340.00,282.60" fill="none" stroke="#000" stroke-width="1.1" stroke-dasharray="4.3 6.3"/>
</g>
<rect x="187" y="161.6" width="152.39999999999998" height="122.1" fill="none" stroke="#000" stroke-width="1.3"/>
<path d="M188.20,283.70v2.4 M209.50,283.70v1.4 M230.80,283.70v2.4 M252.10,283.70v1.4 M273.40,283.70v2.4 M294.70,283.70v1.4 M316.00,283.70v2.4 M337.30,283.70v1.4" stroke="#000" stroke-width="1.1" fill="none"/>
<text x="188.80" y="298.7" text-anchor="middle" style="font-family:'Liberation Serif',serif;font-weight:bold;stroke:#000;stroke-width:0.25px;font-size:12.3px">1720</text>
<text x="231.40" y="298.7" text-anchor="middle" style="font-family:'Liberation Serif',serif;font-weight:bold;stroke:#000;stroke-width:0.25px;font-size:12.3px">1680</text>
<text x="274.00" y="298.7" text-anchor="middle" style="font-family:'Liberation Serif',serif;font-weight:bold;stroke:#000;stroke-width:0.25px;font-size:12.3px">1640</text>
<text x="316.60" y="298.7" text-anchor="middle" style="font-family:'Liberation Serif',serif;font-weight:bold;stroke:#000;stroke-width:0.25px;font-size:12.3px">1600</text>
<text x="210.7" y="309" style="font-family:'Liberation Serif',serif;font-weight:bold;stroke:#000;stroke-width:0.25px;font-size:12.8535px">Wavenumber(cm<tspan style="font-size:7.97px" dy="-5.40">-1</tspan><tspan dy="5.40">)</tspan></text>
<text transform="translate(182.8,223.8) rotate(-90)" text-anchor="middle" textLength="84.9" lengthAdjust="spacingAndGlyphs" style="font-family:'Liberation Serif',serif;font-weight:bold;stroke:#000;stroke-width:0.25px;font-size:12.8px">Absorption(%)</text>
<rect x="189.5" y="167.0" width="8.2" height="3.4" fill="#e84040"/>
<path d="M190,178.8h8" stroke="#111" stroke-width="1.5"/>
<text x="201.1" y="172.2" style="font-family:'Liberation Serif',serif;font-weight:bold;stroke:#000;stroke-width:0.25px;font-size:12.7px">original</text>
<text x="246.2" y="172.2" style="font-family:'Liberation Serif',serif;font-weight:bold;stroke:#000;stroke-width:0.25px;font-size:12.7px">Curve</text>
<text x="201.1" y="183.4" style="font-family:'Liberation Serif',serif;font-weight:bold;stroke:#000;stroke-width:0.25px;font-size:12.7px">fitted</text>
<text x="246.2" y="183.4" style="font-family:'Liberation Serif',serif;font-weight:bold;stroke:#000;stroke-width:0.25px;font-size:12.7px">Curve</text>
<text x="335.9" y="173.2" text-anchor="end" style="font-family:'Liberation Serif',serif;font-weight:bold;stroke:#000;stroke-width:0.25px;font-size:13.3px">H2</text>
<g clip-path="url(#cH3)">
<g fill="none" stroke="#000" stroke-width="1.05" stroke-linejoin="round"><polyline points="357.5,282.9 358.6,282.9 359.7,282.7 360.9,282.4 362.0,281.9 363.1,281.4 364.2,280.9 365.3,280.5 366.5,280.5 367.6,280.9 368.7,281.4 369.8,281.9 370.9,282.4 372.1,282.7 373.2,282.9 374.3,282.9"/><polyline points="366.9,282.9 368.0,282.9 369.0,282.7 370.1,282.4 371.2,281.9 372.3,281.2 373.4,280.2 374.5,279.1 375.5,278.0 376.6,277.3 377.7,277.0 378.8,277.3 379.9,278.0 380.9,279.1 382.0,280.2 383.1,281.2 384.2,281.9 385.3,282.4 386.4,282.7 387.4,282.9 388.5,282.9"/><polyline points="373.1,282.9 374.2,282.9 375.2,282.8 376.3,282.6 377.4,282.2 378.4,281.7 379.5,280.8 380.5,279.5 381.6,277.8 382.6,275.6 383.7,272.9 384.7,270.0 385.8,267.1 386.9,264.6 387.9,262.6 389.0,261.5 390.0,261.5 391.1,262.6 392.1,264.6 393.2,267.1 394.3,270.0 395.3,272.9 396.4,275.6 397.4,277.8 398.5,279.5 399.5,280.8 400.6,281.7 401.6,282.2 402.7,282.6 403.8,282.8 404.8,282.9 405.9,282.9"/><polyline points="384.2,282.9 385.3,282.9 386.3,282.8 387.4,282.6 388.4,282.2 389.5,281.6 390.5,280.6 391.6,279.1 392.6,277.1 393.7,274.4 394.7,271.2 395.8,267.5 396.8,263.6 397.9,259.9 398.9,256.8 400.0,254.8 401.0,254.1 402.0,254.8 403.1,256.8 404.1,259.9 405.2,263.6 406.2,267.5 407.3,271.2 408.3,274.4 409.4,277.1 410.4,279.1 411.5,280.6 412.5,281.6 413.6,282.2 414.6,282.6 415.7,282.8 416.7,282.9 417.8,282.9"/><polyline points="391.2,282.9 392.3,282.9 393.3,282.8 394.4,282.7 395.4,282.4 396.5,282.1 397.5,281.5 398.6,280.6 399.6,279.3 400.6,277.5 401.7,275.1 402.7,272.1 403.8,268.3 404.8,264.0 405.9,259.1 406.9,253.9 408.0,248.7 409.0,243.9 410.1,239.9 411.1,237.0 412.2,235.5 413.2,235.5 414.3,237.0 415.3,239.9 416.4,243.9 417.4,248.7 418.5,253.9 419.5,259.1 420.6,264.0 421.6,268.3 422.7,272.1 423.7,275.1 424.8,277.5 425.8,279.3 426.8,280.6 427.9,281.5 428.9,282.1 430.0,282.4 431.0,282.7 432.1,282.8 433.1,282.9 434.2,282.9"/><polyline points="406.2,282.9 407.2,282.9 408.2,282.8 409.3,282.6 410.3,282.3 411.3,281.7 412.4,280.8 413.4,279.5 414.5,277.7 415.5,275.2 416.5,272.1 417.6,268.4 418.6,264.3 419.6,260.1 420.7,256.2 421.7,253.0 422.8,250.9 423.8,250.2 424.8,250.9 425.9,253.0 426.9,256.2 428.0,260.1 429.0,264.3 430.0,268.4 431.1,272.1 432.1,275.2 433.1,277.7 434.2,279.5 435.2,280.8 436.3,281.7 437.3,282.3 438.3,282.6 439.4,282.8 440.4,282.9 441.4,282.9"/><polyline points="407.9,282.9 408.9,282.9 410.0,282.9 411.0,282.8 412.0,282.6 413.0,282.4 414.0,282.1 415.1,281.7 416.1,281.0 417.1,280.1 418.1,278.9 419.2,277.3 420.2,275.2 421.2,272.6 422.2,269.3 423.2,265.3 424.3,260.6 425.3,255.3 426.3,249.3 427.3,242.8 428.3,236.0 429.4,229.1 430.4,222.4 431.4,216.1 432.4,210.7 433.4,206.3 434.5,203.3 435.5,201.7 436.5,201.7 437.5,203.3 438.6,206.3 439.6,210.7 440.6,216.1 441.6,222.4 442.6,229.1 443.7,236.0 444.7,242.8 445.7,249.3 446.7,255.3 447.7,260.6 448.8,265.3 449.8,269.3 450.8,272.6 451.8,275.2 452.8,277.3 453.9,278.9 454.9,280.1 455.9,281.0 456.9,281.7 458.0,282.1 459.0,282.4 460.0,282.6 461.0,282.8 462.0,282.9 463.1,282.9 464.1,282.9"/><polyline points="429.0,282.9 430.0,282.9 431.0,282.8 432.1,282.7 433.1,282.4 434.2,282.0 435.2,281.4 436.2,280.4 437.3,279.0 438.3,277.1 439.4,274.4 440.4,271.0 441.4,266.7 442.5,261.5 443.5,255.7 444.6,249.3 445.6,242.8 446.6,236.5 447.7,231.0 448.7,226.6 449.8,223.9 450.8,222.9 451.8,223.9 452.9,226.6 453.9,231.0 455.0,236.5 456.0,242.8 457.0,249.3 458.1,255.7 459.1,261.5 460.2,266.7 461.2,271.0 462.2,274.4 463.3,277.1 464.3,279.0 465.4,280.4 466.4,281.4 467.4,282.0 468.5,282.4 469.5,282.7 470.6,282.8 471.6,282.9 472.6,282.9"/><polyline points="440.6,282.9 441.6,282.9 442.7,282.8 443.7,282.7 444.7,282.5 445.8,282.1 446.8,281.6 447.9,280.8 448.9,279.7 450.0,278.1 451.0,275.9 452.0,273.0 453.1,269.5 454.1,265.1 455.2,260.1 456.2,254.5 457.2,248.6 458.3,242.6 459.3,236.9 460.4,232.0 461.4,228.1 462.5,225.6 463.5,224.8 464.5,225.6 465.6,228.1 466.6,232.0 467.7,236.9 468.7,242.6 469.8,248.6 470.8,254.5 471.8,260.1 472.9,265.1 473.9,269.5 475.0,273.0 476.0,275.9 477.0,278.1 478.1,279.7 479.1,280.8 480.2,281.6 481.2,282.1 482.3,282.5 483.3,282.7 484.3,282.8 485.4,282.9 486.4,282.9"/><polyline points="457.5,282.9 458.5,282.9 459.6,282.8 460.6,282.7 461.7,282.4 462.7,282.0 463.8,281.3 464.8,280.4 465.9,279.0 466.9,277.2 468.0,274.8 469.0,271.9 470.1,268.5 471.1,264.9 472.2,261.1 473.2,257.5 474.3,254.5 475.3,252.2 476.4,251.1 477.4,251.1 478.5,252.2 479.5,254.5 480.6,257.5 481.6,261.1 482.7,264.9 483.7,268.5 484.8,271.9 485.8,274.8 486.9,277.2 487.9,279.0 489.0,280.4 490.0,281.3 491.1,282.0 492.1,282.4 493.2,282.7 494.2,282.8 495.3,282.9 496.3,282.9"/><polyline points="471.4,282.9 472.4,282.9 473.4,282.8 474.5,282.7 475.5,282.5 476.5,282.2 477.6,281.8 478.6,281.2 479.6,280.3 480.7,279.3 481.7,278.0 482.8,276.5 483.8,274.8 484.8,273.0 485.9,271.3 486.9,269.7 487.9,268.5 489.0,267.7 490.0,267.4 491.0,267.7 492.1,268.5 493.1,269.7 494.1,271.3 495.2,273.0 496.2,274.8 497.2,276.5 498.3,278.0 499.3,279.3 500.4,280.3 501.4,281.2 502.4,281.8 503.5,282.2 504.5,282.5 505.5,282.7 506.6,282.8 507.6,282.9 508.6,282.9"/></g>
<path d="M357.00,282.60C357.73,282.25 359.93,281.07 361.40,280.50C362.87,279.93 364.33,279.35 365.80,279.20C367.27,279.05 368.73,280.05 370.20,279.60C371.67,279.15 373.13,277.72 374.60,276.50C376.07,275.28 377.50,274.05 379.00,272.30C380.50,270.55 382.15,267.92 383.60,266.00C385.05,264.08 386.33,262.68 387.70,260.80C389.07,258.92 390.45,256.75 391.80,254.70C393.15,252.65 394.43,250.75 395.80,248.50C397.17,246.25 398.47,243.45 400.00,241.20C401.53,238.95 403.23,237.28 405.00,235.00C406.77,232.72 408.93,229.95 410.60,227.50C412.27,225.05 413.58,222.68 415.00,220.30C416.42,217.92 417.72,215.67 419.10,213.20C420.48,210.73 421.92,208.03 423.30,205.50C424.68,202.97 426.02,200.33 427.40,198.00C428.78,195.67 430.22,193.10 431.60,191.50C432.98,189.90 434.33,189.00 435.70,188.40C437.07,187.80 438.25,187.50 439.80,187.90C441.35,188.30 443.43,190.45 445.00,190.80C446.57,191.15 447.82,189.88 449.20,190.00C450.58,190.12 451.93,190.57 453.30,191.50C454.67,192.43 456.02,194.05 457.40,195.60C458.78,197.15 460.22,198.55 461.60,200.80C462.98,203.05 464.42,206.65 465.70,209.10C466.98,211.55 468.15,213.23 469.30,215.50C470.45,217.77 471.50,220.22 472.60,222.70C473.70,225.18 474.80,227.83 475.90,230.40C477.00,232.97 478.10,235.53 479.20,238.10C480.30,240.67 481.40,243.23 482.50,245.80C483.60,248.37 484.70,251.12 485.80,253.50C486.90,255.88 488.00,257.92 489.10,260.10C490.20,262.28 491.30,264.67 492.40,266.60C493.50,268.53 494.60,270.12 495.70,271.70C496.80,273.28 497.72,274.75 499.00,276.10C500.28,277.45 501.95,278.82 503.40,279.80C504.85,280.78 506.60,281.50 507.70,282.00C508.80,282.50 509.62,282.67 510.00,282.80" fill="none" stroke="#eb8f8f" stroke-width="3.6" stroke-linejoin="round" stroke-linecap="round"/>
<path d="M357.00,282.60C357.73,282.25 359.93,281.07 361.40,280.50C362.87,279.93 364.33,279.35 365.80,279.20C367.27,279.05 368.73,280.05 370.20,279.60C371.67,279.15 373.13,277.72 374.60,276.50C376.07,275.28 377.50,274.05 379.00,272.30C380.50,270.55 382.15,267.92 383.60,266.00C385.05,264.08 386.33,262.68 387.70,260.80C389.07,258.92 390.45,256.75 391.80,254.70C393.15,252.65 394.43,250.75 395.80,248.50C397.17,246.25 398.47,243.45 400.00,241.20C401.53,238.95 403.23,237.28 405.00,235.00C406.77,232.72 408.93,229.95 410.60,227.50C412.27,225.05 413.58,222.68 415.00,220.30C416.42,217.92 417.72,215.67 419.10,213.20C420.48,210.73 421.92,208.03 423.30,205.50C424.68,202.97 426.02,200.33 427.40,198.00C428.78,195.67 430.22,193.10 431.60,191.50C432.98,189.90 434.33,189.00 435.70,188.40C437.07,187.80 438.25,187.50 439.80,187.90C441.35,188.30 443.43,190.45 445.00,190.80C446.57,191.15 447.82,189.88 449.20,190.00C450.58,190.12 451.93,190.57 453.30,191.50C454.67,192.43 456.02,194.05 457.40,195.60C458.78,197.15 460.22,198.55 461.60,200.80C462.98,203.05 464.42,206.65 465.70,209.10C466.98,211.55 468.15,213.23 469.30,215.50C470.45,217.77 471.50,220.22 472.60,222.70C473.70,225.18 474.80,227.83 475.90,230.40C477.00,232.97 478.10,235.53 479.20,238.10C480.30,240.67 481.40,243.23 482.50,245.80C483.60,248.37 484.70,251.12 485.80,253.50C486.90,255.88 488.00,257.92 489.10,260.10C490.20,262.28 491.30,264.67 492.40,266.60C493.50,268.53 494.60,270.12 495.70,271.70C496.80,273.28 497.72,274.75 499.00,276.10C500.28,277.45 501.95,278.82 503.40,279.80C504.85,280.78 506.60,281.50 507.70,282.00C508.80,282.50 509.62,282.67 510.00,282.80" fill="none" stroke="#000" stroke-width="1.1" stroke-dasharray="4.3 6.3"/>
</g>
<rect x="357" y="161.5" width="152.39999999999998" height="121.80000000000001" fill="none" stroke="#000" stroke-width="1.3"/>
<path d="M358.50,283.30v2.4 M379.75,283.30v1.4 M401.00,283.30v2.4 M422.25,283.30v1.4 M443.50,283.30v2.4 M464.75,283.30v1.4 M486.00,283.30v2.4 M507.25,283.30v1.4" stroke="#000" stroke-width="1.1" fill="none"/>
<text x="359.10" y="298.7" text-anchor="middle" style="font-family:'Liberation Serif',serif;font-weight:bold;stroke:#000;stroke-width:0.25px;font-size:12.3px">1720</text>
<text x="401.60" y="298.7" text-anchor="middle" style="font-family:'Liberation Serif',serif;font-weight:bold;stroke:#000;stroke-width:0.25px;font-size:12.3px">1680</text>
<text x="444.10" y="298.7" text-anchor="middle" style="font-family:'Liberation Serif',serif;font-weight:bold;stroke:#000;stroke-width:0.25px;font-size:12.3px">1640</text>
<text x="486.60" y="298.7" text-anchor="middle" style="font-family:'Liberation Serif',serif;font-weight:bold;stroke:#000;stroke-width:0.25px;font-size:12.3px">1600</text>
<text x="383.7" y="309" style="font-family:'Liberation Serif',serif;font-weight:bold;stroke:#000;stroke-width:0.25px;font-size:12.8535px">Wavenumber(cm<tspan style="font-size:7.97px" dy="-5.40">-1</tspan><tspan dy="5.40">)</tspan></text>
<text transform="translate(352.8,223.05) rotate(-90)" text-anchor="middle" textLength="84.4" lengthAdjust="spacingAndGlyphs" style="font-family:'Liberation Serif',serif;font-weight:bold;stroke:#000;stroke-width:0.25px;font-size:12.8px">Absorption(%)</text>
<rect x="360" y="167.9" width="8" height="3.1" fill="#e84545"/>
<path d="M360.5,179.5h8" stroke="#111" stroke-width="1.5"/>
<text x="371.1" y="172.3" style="font-family:'Liberation Serif',serif;font-weight:bold;stroke:#000;stroke-width:0.25px;font-size:12.7px">original</text>
<text x="416.6" y="172.3" style="font-family:'Liberation Serif',serif;font-weight:bold;stroke:#000;stroke-width:0.25px;font-size:12.7px">Curve</text>
<text x="371.1" y="183.7" style="font-family:'Liberation Serif',serif;font-weight:bold;stroke:#000;stroke-width:0.25px;font-size:12.7px">fitted</text>
<text x="416.6" y="183.7" style="font-family:'Liberation Serif',serif;font-weight:bold;stroke:#000;stroke-width:0.25px;font-size:12.7px">Curve</text>
<text x="508.3" y="173.2" text-anchor="end" style="font-family:'Liberation Serif',serif;font-weight:bold;stroke:#000;stroke-width:0.25px;font-size:13.3px">H3</text>
<g clip-path="url(#cH4)">
<g fill="none" stroke="#000" stroke-width="1.05" stroke-linejoin="round"><polyline points="531.0,282.2 532.1,282.2 533.1,282.0 534.2,281.7 535.3,281.2 536.4,280.6 537.4,279.9 538.5,279.4 539.6,279.2 540.7,279.4 541.8,279.9 542.8,280.6 543.9,281.2 545.0,281.7 546.1,282.0 547.1,282.2 548.2,282.2"/><polyline points="540.0,282.2 541.1,282.2 542.1,282.0 543.2,281.8 544.3,281.3 545.4,280.6 546.4,279.8 547.5,278.8 548.6,277.9 549.6,277.2 550.7,277.0 551.8,277.2 552.8,277.9 553.9,278.8 555.0,279.8 556.0,280.6 557.1,281.3 558.2,281.8 559.3,282.0 560.3,282.2 561.4,282.2"/><polyline points="544.6,282.2 545.7,282.2 546.7,282.1 547.8,281.9 548.8,281.6 549.8,281.1 550.9,280.4 551.9,279.3 553.0,277.8 554.0,275.8 555.0,273.5 556.1,270.7 557.1,267.8 558.2,264.9 559.2,262.4 560.2,260.5 561.3,259.5 562.3,259.5 563.4,260.5 564.4,262.4 565.4,264.9 566.5,267.8 567.5,270.7 568.6,273.5 569.6,275.8 570.6,277.8 571.7,279.3 572.7,280.4 573.8,281.1 574.8,281.6 575.8,281.9 576.9,282.1 577.9,282.2 579.0,282.2"/><polyline points="558.6,282.2 559.7,282.2 560.8,282.0 561.8,281.7 562.9,281.2 564.0,280.3 565.0,278.8 566.1,276.8 567.2,274.0 568.2,270.7 569.3,267.1 570.3,263.7 571.4,261.1 572.5,259.6 573.5,259.6 574.6,261.1 575.7,263.7 576.7,267.1 577.8,270.7 578.8,274.0 579.9,276.8 581.0,278.8 582.0,280.3 583.1,281.2 584.2,281.7 585.2,282.0 586.3,282.2 587.4,282.2"/><polyline points="562.4,282.2 563.4,282.2 564.5,282.1 565.5,282.0 566.6,281.8 567.6,281.5 568.6,281.0 569.7,280.3 570.7,279.3 571.8,277.9 572.8,276.1 573.9,273.8 574.9,270.9 575.9,267.5 577.0,263.6 578.0,259.3 579.1,254.9 580.1,250.6 581.2,246.7 582.2,243.4 583.2,241.1 584.3,239.9 585.3,239.9 586.4,241.1 587.4,243.4 588.4,246.7 589.5,250.6 590.5,254.9 591.6,259.3 592.6,263.6 593.7,267.5 594.7,270.9 595.7,273.8 596.8,276.1 597.8,277.9 598.9,279.3 599.9,280.3 601.0,281.0 602.0,281.5 603.0,281.8 604.1,282.0 605.1,282.1 606.2,282.2 607.2,282.2"/><polyline points="578.4,282.2 579.5,282.2 580.5,282.1 581.6,281.9 582.6,281.6 583.7,281.1 584.7,280.3 585.8,279.1 586.8,277.4 587.9,275.2 588.9,272.3 590.0,268.9 591.0,265.0 592.1,260.9 593.1,257.0 594.2,253.6 595.2,251.0 596.3,249.7 597.3,249.7 598.4,251.0 599.4,253.6 600.5,257.0 601.5,260.9 602.6,265.0 603.6,268.9 604.7,272.3 605.7,275.2 606.8,277.4 607.8,279.1 608.9,280.3 609.9,281.1 611.0,281.6 612.0,281.9 613.1,282.1 614.1,282.2 615.2,282.2"/><polyline points="580.4,282.2 581.4,282.2 582.4,282.2 583.4,282.1 584.5,282.0 585.5,281.8 586.5,281.5 587.5,281.1 588.5,280.6 589.6,279.8 590.6,278.8 591.6,277.4 592.6,275.7 593.7,273.5 594.7,270.7 595.7,267.4 596.7,263.4 597.7,258.8 598.8,253.7 599.8,248.0 600.8,241.9 601.8,235.6 602.9,229.3 603.9,223.3 604.9,217.7 605.9,212.8 606.9,209.0 608.0,206.3 609.0,204.9 610.0,204.9 611.0,206.3 612.1,209.0 613.1,212.8 614.1,217.7 615.1,223.3 616.1,229.3 617.2,235.6 618.2,241.9 619.2,248.0 620.2,253.7 621.3,258.8 622.3,263.4 623.3,267.4 624.3,270.7 625.3,273.5 626.4,275.7 627.4,277.4 628.4,278.8 629.4,279.8 630.5,280.6 631.5,281.1 632.5,281.5 633.5,281.8 634.5,282.0 635.6,282.1 636.6,282.2 637.6,282.2 638.6,282.2"/><polyline points="603.6,282.2 604.7,282.2 605.7,282.1 606.7,282.0 607.8,281.7 608.8,281.3 609.8,280.7 610.9,279.8 611.9,278.5 612.9,276.7 614.0,274.2 615.0,271.0 616.0,267.2 617.1,262.6 618.1,257.6 619.1,252.2 620.2,246.8 621.2,241.8 622.2,237.6 623.3,234.6 624.3,233.0 625.3,233.0 626.3,234.6 627.4,237.6 628.4,241.8 629.4,246.8 630.5,252.2 631.5,257.6 632.5,262.6 633.6,267.2 634.6,271.0 635.6,274.2 636.7,276.7 637.7,278.5 638.7,279.8 639.8,280.7 640.8,281.3 641.8,281.7 642.9,282.0 643.9,282.1 644.9,282.2 646.0,282.2"/><polyline points="615.1,282.2 616.1,282.2 617.1,282.1 618.2,282.0 619.2,281.8 620.3,281.4 621.3,280.9 622.4,280.0 623.4,278.8 624.4,277.2 625.5,274.9 626.5,272.0 627.6,268.3 628.6,264.0 629.7,259.0 630.7,253.4 631.8,247.7 632.8,242.0 633.8,236.9 634.9,232.5 635.9,229.4 637.0,227.8 638.0,227.8 639.1,229.4 640.1,232.5 641.2,236.9 642.2,242.0 643.2,247.7 644.3,253.4 645.3,259.0 646.4,264.0 647.4,268.3 648.5,272.0 649.5,274.9 650.6,277.2 651.6,278.8 652.6,280.0 653.7,280.9 654.7,281.4 655.8,281.8 656.8,282.0 657.9,282.1 658.9,282.2 659.9,282.2"/><polyline points="632.4,282.2 633.4,282.2 634.5,282.1 635.5,282.0 636.5,281.7 637.6,281.4 638.6,280.8 639.6,280.0 640.7,278.8 641.7,277.3 642.7,275.3 643.8,273.0 644.8,270.2 645.8,267.3 646.9,264.3 647.9,261.4 648.9,259.0 650.0,257.3 651.0,256.3 652.0,256.3 653.0,257.3 654.1,259.0 655.1,261.4 656.1,264.3 657.2,267.3 658.2,270.2 659.2,273.0 660.3,275.3 661.3,277.3 662.3,278.8 663.4,280.0 664.4,280.8 665.4,281.4 666.5,281.7 667.5,282.0 668.5,282.1 669.6,282.2 670.6,282.2"/><polyline points="646.7,282.2 647.8,282.2 648.9,282.1 649.9,282.0 651.0,281.8 652.0,281.5 653.1,281.1 654.1,280.4 655.2,279.6 656.3,278.6 657.3,277.3 658.4,275.8 659.4,274.2 660.5,272.6 661.5,271.1 662.6,269.8 663.7,268.8 664.7,268.4 665.8,268.4 666.8,268.9 667.9,269.9 668.9,271.2 670.0,272.7 671.1,274.4 672.1,276.0 673.2,277.4 674.2,278.7 675.3,279.7 676.4,280.5 677.4,281.1 678.5,281.5 679.5,281.8 680.6,282.0 681.6,282.1 682.7,282.2"/></g>
<path d="M530.00,282.00C530.73,281.53 532.93,279.97 534.40,279.20C535.87,278.43 537.33,277.60 538.80,277.40C540.27,277.20 541.73,278.22 543.20,278.00C544.67,277.78 546.13,277.27 547.60,276.10C549.07,274.93 550.53,272.77 552.00,271.00C553.47,269.23 554.93,267.50 556.40,265.50C557.87,263.50 559.33,261.18 560.80,259.00C562.27,256.82 563.73,254.78 565.20,252.40C566.67,250.02 568.13,247.18 569.60,244.70C571.07,242.22 572.53,239.52 574.00,237.50C575.47,235.48 576.77,234.15 578.40,232.60C580.03,231.05 581.98,230.07 583.80,228.20C585.62,226.33 587.58,223.73 589.30,221.40C591.02,219.07 592.60,216.77 594.10,214.20C595.60,211.63 596.92,208.75 598.30,206.00C599.68,203.25 601.02,200.12 602.40,197.70C603.78,195.28 605.22,192.98 606.60,191.50C607.98,190.02 609.15,188.92 610.70,188.80C612.25,188.68 614.17,190.02 615.90,190.80C617.63,191.58 619.38,192.70 621.10,193.50C622.82,194.30 624.48,194.57 626.20,195.60C627.92,196.63 629.85,197.97 631.40,199.70C632.95,201.43 634.12,203.70 635.50,206.00C636.88,208.30 638.38,210.97 639.70,213.50C641.02,216.03 642.23,218.57 643.40,221.20C644.57,223.83 645.60,226.67 646.70,229.30C647.80,231.93 648.90,234.43 650.00,237.00C651.10,239.57 652.20,242.32 653.30,244.70C654.40,247.08 655.50,249.10 656.60,251.30C657.70,253.50 658.80,255.70 659.90,257.90C661.00,260.10 662.10,262.48 663.20,264.50C664.30,266.52 665.40,268.37 666.50,270.00C667.60,271.63 668.52,272.92 669.80,274.30C671.08,275.68 672.75,277.20 674.20,278.30C675.65,279.40 677.23,280.23 678.50,280.90C679.77,281.57 681.25,282.07 681.80,282.30" fill="none" stroke="#d98b8b" stroke-width="3.6" stroke-linejoin="round" stroke-linecap="round"/>
<path d="M530.00,282.00C530.73,281.53 532.93,279.97 534.40,279.20C535.87,278.43 537.33,277.60 538.80,277.40C540.27,277.20 541.73,278.22 543.20,278.00C544.67,277.78 546.13,277.27 547.60,276.10C549.07,274.93 550.53,272.77 552.00,271.00C553.47,269.23 554.93,267.50 556.40,265.50C557.87,263.50 559.33,261.18 560.80,259.00C562.27,256.82 563.73,254.78 565.20,252.40C566.67,250.02 568.13,247.18 569.60,244.70C571.07,242.22 572.53,239.52 574.00,237.50C575.47,235.48 576.77,234.15 578.40,232.60C580.03,231.05 581.98,230.07 583.80,228.20C585.62,226.33 587.58,223.73 589.30,221.40C591.02,219.07 592.60,216.77 594.10,214.20C595.60,211.63 596.92,208.75 598.30,206.00C599.68,203.25 601.02,200.12 602.40,197.70C603.78,195.28 605.22,192.98 606.60,191.50C607.98,190.02 609.15,188.92 610.70,188.80C612.25,188.68 614.17,190.02 615.90,190.80C617.63,191.58 619.38,192.70 621.10,193.50C622.82,194.30 624.48,194.57 626.20,195.60C627.92,196.63 629.85,197.97 631.40,199.70C632.95,201.43 634.12,203.70 635.50,206.00C636.88,208.30 638.38,210.97 639.70,213.50C641.02,216.03 642.23,218.57 643.40,221.20C644.57,223.83 645.60,226.67 646.70,229.30C647.80,231.93 648.90,234.43 650.00,237.00C651.10,239.57 652.20,242.32 653.30,244.70C654.40,247.08 655.50,249.10 656.60,251.30C657.70,253.50 658.80,255.70 659.90,257.90C661.00,260.10 662.10,262.48 663.20,264.50C664.30,266.52 665.40,268.37 666.50,270.00C667.60,271.63 668.52,272.92 669.80,274.30C671.08,275.68 672.75,277.20 674.20,278.30C675.65,279.40 677.23,280.23 678.50,280.90C679.77,281.57 681.25,282.07 681.80,282.30" fill="none" stroke="#000" stroke-width="1.1" stroke-dasharray="4.3 6.3"/>
</g>
<rect x="530.5" y="161.5" width="152.20000000000005" height="121.10000000000002" fill="none" stroke="#000" stroke-width="1.3"/>
<path d="M531.30,282.60v2.4 M552.83,282.60v1.4 M574.37,282.60v2.4 M595.90,282.60v1.4 M617.43,282.60v2.4 M638.97,282.60v1.4 M660.50,282.60v2.4 M682.03,282.60v1.4" stroke="#000" stroke-width="1.1" fill="none"/>
<text x="531.90" y="298.7" text-anchor="middle" style="font-family:'Liberation Serif',serif;font-weight:bold;stroke:#000;stroke-width:0.25px;font-size:13.5px">1720</text>
<text x="574.97" y="298.7" text-anchor="middle" style="font-family:'Liberation Serif',serif;font-weight:bold;stroke:#000;stroke-width:0.25px;font-size:13.5px">1680</text>
<text x="618.03" y="298.7" text-anchor="middle" style="font-family:'Liberation Serif',serif;font-weight:bold;stroke:#000;stroke-width:0.25px;font-size:13.5px">1640</text>
<text x="661.10" y="298.7" text-anchor="middle" style="font-family:'Liberation Serif',serif;font-weight:bold;stroke:#000;stroke-width:0.25px;font-size:13.5px">1600</text>
<text x="545.6" y="309.5" style="font-family:'Liberation Serif',serif;font-weight:bold;stroke:#000;stroke-width:0.25px;font-size:14.107499999999998px">Wavenumber(cm<tspan style="font-size:8.75px" dy="-5.93">-1</tspan><tspan dy="5.93">)</tspan></text>
<text transform="translate(524.8,219.20000000000002) rotate(-90)" text-anchor="middle" textLength="91.1" lengthAdjust="spacingAndGlyphs" style="font-family:'Liberation Serif',serif;font-weight:bold;stroke:#000;stroke-width:0.25px;font-size:13.8px">Absorption(%)</text>
<rect x="533" y="167.4" width="8" height="3.4" fill="#cc3030"/>
<path d="M533.5,179.2h8" stroke="#111" stroke-width="1.5"/>
<text x="543.6" y="172.5" style="font-family:'Liberation Serif',serif;font-weight:bold;stroke:#000;stroke-width:0.25px;font-size:13.6px">original</text>
<text x="592.8" y="172.5" style="font-family:'Liberation Serif',serif;font-weight:bold;stroke:#000;stroke-width:0.25px;font-size:13.6px">Curve</text>
<text x="543.6" y="184.0" style="font-family:'Liberation Serif',serif;font-weight:bold;stroke:#000;stroke-width:0.25px;font-size:13.6px">fitted</text>
<text x="592.8" y="184.0" style="font-family:'Liberation Serif',serif;font-weight:bold;stroke:#000;stroke-width:0.25px;font-size:13.6px">Curve</text>
<text x="681" y="173.6" text-anchor="end" style="font-family:'Liberation Serif',serif;font-weight:bold;stroke:#000;stroke-width:0.25px;font-size:13.8px">H4</text>
<g clip-path="url(#cA)" fill="none" stroke-width="2" stroke-linejoin="round" stroke-linecap="round">
<path d="M15.70,25.50C16.18,24.90 17.52,22.92 18.60,21.90C19.68,20.88 21.13,19.40 22.20,19.40C23.27,19.40 23.93,20.53 25.00,21.90C26.07,23.27 27.52,27.00 28.60,27.60C29.68,28.20 30.42,26.57 31.50,25.50C32.58,24.43 34.03,21.63 35.10,21.20C36.17,20.77 36.95,22.30 37.90,22.90C38.85,23.50 39.60,24.90 40.80,24.80C42.00,24.70 43.90,22.48 45.10,22.30C46.30,22.12 46.80,22.88 48.00,23.70C49.20,24.52 51.13,27.27 52.30,27.20C53.47,27.13 54.18,24.55 55.00,23.30C55.82,22.05 56.37,20.72 57.20,19.70C58.03,18.68 59.17,17.07 60.00,17.20C60.83,17.33 61.37,19.00 62.20,20.50C63.03,22.00 64.05,25.13 65.00,26.20C65.95,27.27 66.93,27.50 67.90,26.90C68.87,26.30 69.97,23.67 70.80,22.60C71.63,21.53 72.18,20.62 72.90,20.50C73.62,20.38 74.27,21.07 75.10,21.90C75.93,22.73 77.07,24.78 77.90,25.50C78.73,26.22 79.25,26.68 80.10,26.20C80.95,25.72 82.17,23.48 83.00,22.60C83.83,21.72 84.38,20.53 85.10,20.90C85.82,21.27 86.58,23.43 87.30,24.80C88.02,26.17 88.68,28.98 89.40,29.10C90.12,29.22 90.88,27.07 91.60,25.50C92.32,23.93 93.05,20.78 93.70,19.70C94.35,18.62 94.92,18.63 95.50,19.00C96.08,19.37 96.45,21.07 97.20,21.90C97.95,22.73 99.05,23.60 100.00,24.00C100.95,24.40 101.82,24.00 102.90,24.30C103.98,24.60 105.43,25.72 106.50,25.80C107.57,25.88 108.23,25.22 109.30,24.80C110.37,24.38 111.70,23.43 112.90,23.30C114.10,23.17 115.30,23.83 116.50,24.00C117.70,24.17 119.02,24.48 120.10,24.30C121.18,24.12 122.17,23.42 123.00,22.90C123.83,22.38 124.27,20.97 125.10,21.20C125.93,21.43 127.05,23.47 128.00,24.30C128.95,25.13 129.65,26.25 130.80,26.20C131.95,26.15 133.62,24.48 134.90,24.00C136.18,23.52 137.43,23.25 138.50,23.30C139.57,23.35 140.23,24.30 141.30,24.30C142.37,24.30 143.82,23.22 144.90,23.30C145.98,23.38 146.85,24.80 147.80,24.80C148.75,24.80 149.53,23.72 150.60,23.30C151.67,22.88 153.12,22.23 154.20,22.30C155.28,22.37 156.02,23.42 157.10,23.70C158.18,23.98 159.38,24.00 160.70,24.00C162.02,24.00 163.12,23.70 165.00,23.70C166.88,23.70 170.83,23.95 172.00,24.00" stroke="#2a50a0"/>
<path d="M15.70,44.10C16.18,43.15 17.52,39.95 18.60,38.40C19.68,36.85 21.13,34.68 22.20,34.80C23.27,34.92 23.93,37.43 25.00,39.10C26.07,40.77 27.52,44.20 28.60,44.80C29.68,45.40 30.42,43.65 31.50,42.70C32.58,41.75 34.03,39.47 35.10,39.10C36.17,38.73 36.95,40.02 37.90,40.50C38.85,40.98 39.60,42.23 40.80,42.00C42.00,41.77 43.90,39.35 45.10,39.10C46.30,38.85 46.80,39.55 48.00,40.50C49.20,41.45 51.13,45.03 52.30,44.80C53.47,44.57 54.18,40.65 55.00,39.10C55.82,37.55 56.37,36.58 57.20,35.50C58.03,34.42 59.17,32.37 60.00,32.60C60.83,32.83 61.37,35.10 62.20,36.90C63.03,38.70 64.05,42.08 65.00,43.40C65.95,44.72 66.93,45.28 67.90,44.80C68.87,44.32 69.97,41.57 70.80,40.50C71.63,39.43 72.18,38.52 72.90,38.40C73.62,38.28 74.27,39.08 75.10,39.80C75.93,40.52 77.07,42.47 77.90,42.70C78.73,42.93 79.25,42.28 80.10,41.20C80.95,40.12 82.17,37.38 83.00,36.20C83.83,35.02 84.38,33.73 85.10,34.10C85.82,34.47 86.58,36.02 87.30,38.40C88.02,40.78 88.68,46.97 89.40,48.40C90.12,49.83 90.88,48.92 91.60,47.00C92.32,45.08 93.05,39.05 93.70,36.90C94.35,34.75 94.92,33.85 95.50,34.10C96.08,34.35 96.45,37.22 97.20,38.40C97.95,39.58 99.05,41.02 100.00,41.20C100.95,41.38 101.95,39.37 102.90,39.50C103.85,39.63 104.75,41.12 105.70,42.00C106.65,42.88 107.63,44.80 108.60,44.80C109.57,44.80 110.53,42.83 111.50,42.00C112.47,41.17 113.33,39.97 114.40,39.80C115.47,39.63 116.72,40.88 117.90,41.00C119.08,41.12 120.30,41.05 121.50,40.50C122.70,39.95 124.02,37.82 125.10,37.70C126.18,37.58 127.17,38.85 128.00,39.80C128.83,40.75 129.38,42.95 130.10,43.40C130.82,43.85 131.50,42.98 132.30,42.50C133.10,42.02 134.00,41.07 134.90,40.50C135.80,39.93 136.75,39.10 137.70,39.10C138.65,39.10 139.63,40.38 140.60,40.50C141.57,40.62 142.55,39.68 143.50,39.80C144.45,39.92 145.35,40.83 146.30,41.20C147.25,41.57 148.23,42.12 149.20,42.00C150.17,41.88 151.15,40.87 152.10,40.50C153.05,40.13 153.95,39.68 154.90,39.80C155.85,39.92 156.83,40.97 157.80,41.20C158.77,41.43 159.50,41.43 160.70,41.20C161.90,40.97 163.12,40.15 165.00,39.80C166.88,39.45 170.83,39.22 172.00,39.10" stroke="#3d8ac6"/>
<path d="M16.30,61.00C16.83,60.27 18.33,58.08 19.50,56.60C20.67,55.12 22.13,52.10 23.30,52.10C24.47,52.10 25.33,54.90 26.50,56.60C27.67,58.30 29.25,61.88 30.30,62.30C31.35,62.72 31.95,60.17 32.80,59.10C33.65,58.03 34.58,56.22 35.40,55.90C36.22,55.58 36.97,56.67 37.70,57.20C38.43,57.73 38.95,59.10 39.80,59.10C40.65,59.10 41.83,57.73 42.80,57.20C43.77,56.67 44.50,55.68 45.60,55.90C46.70,56.12 48.02,57.65 49.40,58.50C50.78,59.35 52.88,61.22 53.90,61.00C54.92,60.78 54.90,58.47 55.50,57.20C56.10,55.93 56.68,54.47 57.50,53.40C58.32,52.33 59.55,50.48 60.40,50.80C61.25,51.12 61.80,53.60 62.60,55.30C63.40,57.00 64.35,60.27 65.20,61.00C66.05,61.73 66.85,60.55 67.70,59.70C68.55,58.85 69.45,56.63 70.30,55.90C71.15,55.17 71.95,54.98 72.80,55.30C73.65,55.62 74.55,57.07 75.40,57.80C76.25,58.53 77.05,59.90 77.90,59.70C78.75,59.50 79.53,57.77 80.50,56.60C81.47,55.43 82.75,52.50 83.70,52.70C84.65,52.90 85.42,55.78 86.20,57.80C86.98,59.82 87.65,64.37 88.40,64.80C89.15,65.23 89.90,62.30 90.70,60.40C91.50,58.50 92.48,54.88 93.20,53.40C93.92,51.92 94.28,51.30 95.00,51.50C95.72,51.70 96.65,53.75 97.50,54.60C98.35,55.45 99.25,56.38 100.10,56.60C100.95,56.82 101.75,55.58 102.60,55.90C103.45,56.22 104.35,57.53 105.20,58.50C106.05,59.47 106.85,61.70 107.70,61.70C108.55,61.70 109.45,59.47 110.30,58.50C111.15,57.53 111.85,56.22 112.80,55.90C113.75,55.58 114.93,56.17 116.00,56.60C117.07,57.03 118.13,58.40 119.20,58.50C120.27,58.60 121.33,57.73 122.40,57.20C123.47,56.67 124.65,55.40 125.60,55.30C126.55,55.20 127.15,55.87 128.10,56.60C129.05,57.33 130.23,59.60 131.30,59.70C132.37,59.80 133.53,57.83 134.50,57.20C135.47,56.57 136.25,55.90 137.10,55.90C137.95,55.90 138.75,56.88 139.60,57.20C140.45,57.52 141.35,57.90 142.20,57.80C143.05,57.70 143.85,56.48 144.70,56.60C145.55,56.72 146.45,57.98 147.30,58.50C148.15,59.02 148.95,59.70 149.80,59.70C150.65,59.70 151.43,58.82 152.40,58.50C153.37,58.18 154.53,57.73 155.60,57.80C156.67,57.87 157.63,58.68 158.80,58.90C159.97,59.12 161.33,59.17 162.60,59.10C163.87,59.03 164.83,58.72 166.40,58.50C167.97,58.28 171.07,57.92 172.00,57.80" stroke="#92c6e2"/>
<path d="M16.30,72.90C16.93,72.93 18.83,73.23 20.10,73.10C21.37,72.97 22.63,72.13 23.90,72.10C25.17,72.07 26.22,72.57 27.70,72.90C29.18,73.23 31.30,74.32 32.80,74.10C34.30,73.88 35.32,71.65 36.70,71.60C38.08,71.55 39.73,73.80 41.10,73.80C42.47,73.80 43.73,71.75 44.90,71.60C46.07,71.45 46.93,72.48 48.10,72.90C49.27,73.32 50.75,74.38 51.90,74.10C53.05,73.82 54.07,71.90 55.00,71.20C55.93,70.50 56.65,69.90 57.50,69.90C58.35,69.90 59.25,70.67 60.10,71.20C60.95,71.73 61.53,72.47 62.60,73.10C63.67,73.73 65.33,75.10 66.50,75.00C67.67,74.90 68.55,73.35 69.60,72.50C70.65,71.65 71.73,70.02 72.80,69.90C73.87,69.78 74.93,71.15 76.00,71.80C77.07,72.45 78.13,73.80 79.20,73.80C80.27,73.80 81.45,71.92 82.40,71.80C83.35,71.68 84.05,72.45 84.90,73.10C85.75,73.75 86.53,75.70 87.50,75.70C88.47,75.70 89.63,73.95 90.70,73.10C91.77,72.25 92.77,70.92 93.90,70.60C95.03,70.28 96.37,70.67 97.50,71.20C98.63,71.73 99.63,73.27 100.70,73.80C101.77,74.33 102.83,74.62 103.90,74.40C104.97,74.18 106.03,73.03 107.10,72.50C108.17,71.97 109.23,71.20 110.30,71.20C111.37,71.20 112.43,72.13 113.50,72.50C114.57,72.87 115.53,73.52 116.70,73.40C117.87,73.28 119.33,72.27 120.50,71.80C121.67,71.33 122.65,70.60 123.70,70.60C124.75,70.60 125.75,71.27 126.80,71.80C127.85,72.33 128.72,73.53 130.00,73.80C131.28,74.07 133.22,73.62 134.50,73.40C135.78,73.18 136.63,72.58 137.70,72.50C138.77,72.42 139.73,72.75 140.90,72.90C142.07,73.05 143.53,73.15 144.70,73.40C145.87,73.65 146.83,74.55 147.90,74.40C148.97,74.25 150.13,72.67 151.10,72.50C152.07,72.33 152.63,73.33 153.70,73.40C154.77,73.47 156.02,72.98 157.50,72.90C158.98,72.82 160.18,72.97 162.60,72.90C165.02,72.83 170.43,72.57 172.00,72.50" stroke="#f0b4a0"/>
<path d="M16.00,90.60C16.52,90.25 18.08,88.92 19.10,88.50C20.12,88.08 21.08,87.92 22.10,88.10C23.12,88.28 24.00,89.18 25.20,89.60C26.40,90.02 27.93,90.43 29.30,90.60C30.67,90.77 32.22,90.95 33.40,90.60C34.58,90.25 35.38,88.50 36.40,88.50C37.42,88.50 38.47,90.42 39.50,90.60C40.53,90.78 41.58,90.12 42.60,89.60C43.62,89.08 44.58,87.33 45.60,87.50C46.62,87.67 47.68,89.92 48.70,90.60C49.72,91.28 50.82,91.70 51.70,91.60C52.58,91.50 52.97,90.98 54.00,90.00C55.03,89.02 56.65,85.78 57.90,85.70C59.15,85.62 60.18,88.18 61.50,89.50C62.82,90.82 64.55,93.43 65.80,93.60C67.05,93.77 67.93,91.68 69.00,90.50C70.07,89.32 71.12,86.67 72.20,86.50C73.28,86.33 74.55,88.43 75.50,89.50C76.45,90.57 77.15,92.73 77.90,92.90C78.65,93.07 79.28,91.22 80.00,90.50C80.72,89.78 81.37,88.52 82.20,88.60C83.03,88.68 84.03,90.17 85.00,91.00C85.97,91.83 87.00,93.93 88.00,93.60C89.00,93.27 90.05,90.32 91.00,89.00C91.95,87.68 92.78,85.95 93.70,85.70C94.62,85.45 95.57,86.90 96.50,87.50C97.43,88.10 98.00,88.52 99.30,89.30C100.60,90.08 102.63,92.32 104.30,92.20C105.97,92.08 107.75,88.97 109.30,88.60C110.85,88.23 112.17,89.63 113.60,90.00C115.03,90.37 116.22,91.03 117.90,90.80C119.58,90.57 121.78,88.60 123.70,88.60C125.62,88.60 128.02,90.43 129.40,90.80C130.78,91.17 130.62,90.93 132.00,90.80C133.38,90.67 135.78,90.25 137.70,90.00C139.62,89.75 142.07,89.30 143.50,89.30C144.93,89.30 145.47,89.52 146.30,90.00C147.13,90.48 147.78,92.07 148.50,92.20C149.22,92.33 149.77,91.45 150.60,90.80C151.43,90.15 152.53,88.38 153.50,88.30C154.47,88.22 155.20,89.97 156.40,90.30C157.60,90.63 158.10,90.35 160.70,90.30C163.30,90.25 170.12,90.05 172.00,90.00" stroke="#e8644c"/>
<path d="M16.00,108.50C16.52,107.72 18.08,104.92 19.10,103.80C20.12,102.68 20.92,101.62 22.10,101.80C23.28,101.98 24.83,103.53 26.20,104.90C27.57,106.27 28.77,110.18 30.30,110.00C31.83,109.82 34.03,104.65 35.40,103.80C36.77,102.95 37.48,104.38 38.50,104.90C39.52,105.42 40.32,107.08 41.50,106.90C42.68,106.72 44.40,104.13 45.60,103.80C46.80,103.47 47.68,104.05 48.70,104.90C49.72,105.75 50.65,109.47 51.70,108.90C52.75,108.33 53.55,103.33 55.00,101.50C56.45,99.67 58.98,97.48 60.40,97.90C61.82,98.32 62.37,101.85 63.50,104.00C64.63,106.15 66.03,110.47 67.20,110.80C68.37,111.13 69.43,107.55 70.50,106.00C71.57,104.45 72.60,101.75 73.60,101.50C74.60,101.25 75.65,103.42 76.50,104.50C77.35,105.58 77.92,107.92 78.70,108.00C79.48,108.08 80.37,105.97 81.20,105.00C82.03,104.03 82.87,101.95 83.70,102.20C84.53,102.45 85.37,104.95 86.20,106.50C87.03,108.05 87.87,111.58 88.70,111.50C89.53,111.42 90.37,107.90 91.20,106.00C92.03,104.10 92.58,100.62 93.70,100.10C94.82,99.58 96.60,101.95 97.90,102.90C99.20,103.85 100.43,105.43 101.50,105.80C102.57,106.17 103.28,104.38 104.30,105.10C105.32,105.82 106.63,109.75 107.60,110.10C108.57,110.45 109.22,108.40 110.10,107.20C110.98,106.00 111.83,103.25 112.90,102.90C113.97,102.55 115.18,104.38 116.50,105.10C117.82,105.82 119.37,107.32 120.80,107.20C122.23,107.08 123.67,104.40 125.10,104.40C126.53,104.40 128.25,106.60 129.40,107.20C130.55,107.80 130.85,108.23 132.00,108.00C133.15,107.77 134.87,106.28 136.30,105.80C137.73,105.32 139.17,104.98 140.60,105.10C142.03,105.22 143.58,106.02 144.90,106.50C146.22,106.98 147.55,108.00 148.50,108.00C149.45,108.00 149.65,106.98 150.60,106.50C151.55,106.02 153.12,105.22 154.20,105.10C155.28,104.98 156.02,105.68 157.10,105.80C158.18,105.92 159.15,105.68 160.70,105.80C162.25,105.92 164.52,106.50 166.40,106.50C168.28,106.50 171.07,105.92 172.00,105.80" stroke="#e0302c"/>
<path d="M16.00,121.20C16.52,120.58 18.08,118.52 19.10,117.50C20.12,116.48 20.92,115.00 22.10,115.10C23.28,115.20 24.83,116.92 26.20,118.10C27.57,119.28 28.77,122.30 30.30,122.20C31.83,122.10 34.03,118.02 35.40,117.50C36.77,116.98 37.48,118.65 38.50,119.10C39.52,119.55 40.32,120.37 41.50,120.20C42.68,120.03 44.40,118.28 45.60,118.10C46.80,117.92 47.68,118.58 48.70,119.10C49.72,119.62 50.65,121.30 51.70,121.20C52.75,121.10 53.62,119.87 55.00,118.50C56.38,117.13 58.58,113.08 60.00,113.00C61.42,112.92 62.30,116.33 63.50,118.00C64.70,119.67 66.03,122.83 67.20,123.00C68.37,123.17 69.43,120.20 70.50,119.00C71.57,117.80 72.60,115.88 73.60,115.80C74.60,115.72 75.53,117.65 76.50,118.50C77.47,119.35 78.57,120.82 79.40,120.90C80.23,120.98 80.78,119.60 81.50,119.00C82.22,118.40 82.87,117.05 83.70,117.30C84.53,117.55 85.55,119.55 86.50,120.50C87.45,121.45 88.48,123.33 89.40,123.00C90.32,122.67 91.17,119.93 92.00,118.50C92.83,117.07 93.42,114.60 94.40,114.40C95.38,114.20 96.72,116.47 97.90,117.30C99.08,118.13 100.07,118.68 101.50,119.40C102.93,120.12 104.95,121.60 106.50,121.60C108.05,121.60 109.37,120.00 110.80,119.40C112.23,118.80 113.67,117.88 115.10,118.00C116.53,118.12 117.73,120.22 119.40,120.10C121.07,119.98 123.43,117.17 125.10,117.30C126.77,117.43 128.20,120.55 129.40,120.90C130.60,121.25 131.15,119.77 132.30,119.40C133.45,119.03 134.92,118.93 136.30,118.70C137.68,118.47 139.17,117.88 140.60,118.00C142.03,118.12 143.58,118.80 144.90,119.40C146.22,120.00 147.30,121.60 148.50,121.60C149.70,121.60 151.03,120.00 152.10,119.40C153.17,118.80 153.72,118.12 154.90,118.00C156.08,117.88 157.52,118.47 159.20,118.70C160.88,118.93 162.87,119.43 165.00,119.40C167.13,119.37 170.83,118.65 172.00,118.50" stroke="#a8201e"/>
</g>
<rect x="15.8" y="2.2" width="156.2" height="127.6" fill="none" stroke="#000" stroke-width="1.3"/>
<path d="M16.00,129.8v2.4 M38.20,129.8v1.4 M60.40,129.8v2.4 M82.60,129.8v1.4 M104.80,129.8v2.4 M127.00,129.8v1.4 M149.20,129.8v2.4 M171.40,129.8v1.4" stroke="#000" stroke-width="1.1"/>
<text x="16.00" y="143.6" text-anchor="middle" style="font-family:'Liberation Serif',serif;font-weight:bold;stroke:#000;stroke-width:0.25px;font-size:12.3px">1720</text>
<text x="60.40" y="143.6" text-anchor="middle" style="font-family:'Liberation Serif',serif;font-weight:bold;stroke:#000;stroke-width:0.25px;font-size:12.3px">1680</text>
<text x="104.80" y="143.6" text-anchor="middle" style="font-family:'Liberation Serif',serif;font-weight:bold;stroke:#000;stroke-width:0.25px;font-size:12.3px">1640</text>
<text x="149.20" y="143.6" text-anchor="middle" style="font-family:'Liberation Serif',serif;font-weight:bold;stroke:#000;stroke-width:0.25px;font-size:12.3px">1600</text>
<text x="45.9" y="154.5" style="font-family:'Liberation Serif',serif;font-weight:bold;stroke:#000;stroke-width:0.25px;font-size:12.55px">Wavenumber(cm<tspan style="font-size:7.78px" dy="-5.27">-1</tspan><tspan dy="5.27">)</tspan></text>
<text transform="translate(11.6,65.4) rotate(-90)" text-anchor="middle" textLength="113.4" lengthAdjust="spacingAndGlyphs" style="font-family:'Liberation Serif',serif;font-weight:bold;stroke:#000;stroke-width:0.25px;font-size:13.4px">Absorption% (a.u.)</text>
<text x="17.2" y="13.9" style="font-family:'Liberation Serif',serif;font-weight:bold;stroke:#000;stroke-width:0.25px;font-size:10.4px">Fourth-derivative spectroscopy</text>
<text x="171" y="21.2" text-anchor="end" style="font-family:'Liberation Serif',serif;font-weight:bold;stroke:#000;stroke-width:0.25px;font-size:10.4px">T1</text>
<text x="171" y="37.7" text-anchor="end" style="font-family:'Liberation Serif',serif;font-weight:bold;stroke:#000;stroke-width:0.25px;font-size:10.4px">T2</text>
<text x="171" y="52.9" text-anchor="end" style="font-family:'Liberation Serif',serif;font-weight:bold;stroke:#000;stroke-width:0.25px;font-size:10.4px">T3</text>
<text x="171" y="69.2" text-anchor="end" style="font-family:'Liberation Serif',serif;font-weight:bold;stroke:#000;stroke-width:0.25px;font-size:10.4px">H1</text>
<text x="171" y="86.5" text-anchor="end" style="font-family:'Liberation Serif',serif;font-weight:bold;stroke:#000;stroke-width:0.25px;font-size:10.4px">H2</text>
<text x="171" y="103.0" text-anchor="end" style="font-family:'Liberation Serif',serif;font-weight:bold;stroke:#000;stroke-width:0.25px;font-size:10.4px">H3</text>
<text x="171" y="118.8" text-anchor="end" style="font-family:'Liberation Serif',serif;font-weight:bold;stroke:#000;stroke-width:0.25px;font-size:10.4px">H4</text>
</svg></body></html>
